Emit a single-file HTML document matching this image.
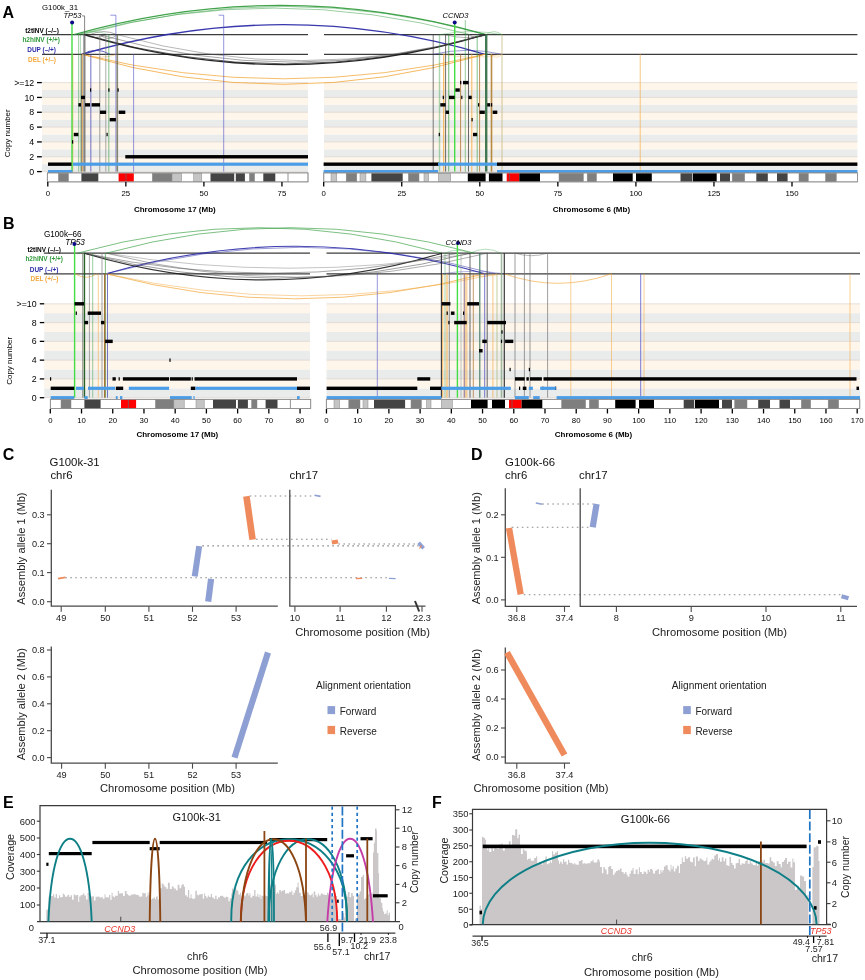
<!DOCTYPE html><html><head><meta charset="utf-8"><style>html,body{margin:0;padding:0;background:#fff;}svg{display:block;font-family:"Liberation Sans",sans-serif;will-change:transform;}</style></head><body>
<svg width="865" height="980" viewBox="0 0 865 980">
<rect x="42" y="164.18" width="266" height="7.42" fill="#eaebeb" />
<rect x="42" y="156.77" width="266" height="7.42" fill="#fef5eb" />
<rect x="42" y="149.35" width="266" height="7.42" fill="#eaebeb" />
<rect x="42" y="141.93" width="266" height="7.42" fill="#fef5eb" />
<rect x="42" y="134.52" width="266" height="7.42" fill="#eaebeb" />
<rect x="42" y="127.1" width="266" height="7.42" fill="#fef5eb" />
<rect x="42" y="119.68" width="266" height="7.42" fill="#eaebeb" />
<rect x="42" y="112.27" width="266" height="7.42" fill="#fef5eb" />
<rect x="42" y="104.85" width="266" height="7.42" fill="#eaebeb" />
<rect x="42" y="97.43" width="266" height="7.42" fill="#fef5eb" />
<rect x="42" y="90.02" width="266" height="7.42" fill="#eaebeb" />
<rect x="42" y="82.6" width="266" height="7.42" fill="#fef5eb" />
<line x1="42" y1="171.6" x2="308" y2="171.6" stroke="#d6cfc7" stroke-width="0.6" />
<line x1="42" y1="156.77" x2="308" y2="156.77" stroke="#d6cfc7" stroke-width="0.6" />
<line x1="42" y1="141.93" x2="308" y2="141.93" stroke="#d6cfc7" stroke-width="0.6" />
<line x1="42" y1="127.1" x2="308" y2="127.1" stroke="#d6cfc7" stroke-width="0.6" />
<line x1="42" y1="112.27" x2="308" y2="112.27" stroke="#d6cfc7" stroke-width="0.6" />
<line x1="42" y1="97.43" x2="308" y2="97.43" stroke="#d6cfc7" stroke-width="0.6" />
<line x1="42" y1="82.6" x2="308" y2="82.6" stroke="#d6cfc7" stroke-width="0.6" />
<rect x="324" y="164.18" width="533.4" height="7.42" fill="#eaebeb" />
<rect x="324" y="156.77" width="533.4" height="7.42" fill="#fef5eb" />
<rect x="324" y="149.35" width="533.4" height="7.42" fill="#eaebeb" />
<rect x="324" y="141.93" width="533.4" height="7.42" fill="#fef5eb" />
<rect x="324" y="134.52" width="533.4" height="7.42" fill="#eaebeb" />
<rect x="324" y="127.1" width="533.4" height="7.42" fill="#fef5eb" />
<rect x="324" y="119.68" width="533.4" height="7.42" fill="#eaebeb" />
<rect x="324" y="112.27" width="533.4" height="7.42" fill="#fef5eb" />
<rect x="324" y="104.85" width="533.4" height="7.42" fill="#eaebeb" />
<rect x="324" y="97.43" width="533.4" height="7.42" fill="#fef5eb" />
<rect x="324" y="90.02" width="533.4" height="7.42" fill="#eaebeb" />
<rect x="324" y="82.6" width="533.4" height="7.42" fill="#fef5eb" />
<line x1="324" y1="171.6" x2="857.4" y2="171.6" stroke="#d6cfc7" stroke-width="0.6" />
<line x1="324" y1="156.77" x2="857.4" y2="156.77" stroke="#d6cfc7" stroke-width="0.6" />
<line x1="324" y1="141.93" x2="857.4" y2="141.93" stroke="#d6cfc7" stroke-width="0.6" />
<line x1="324" y1="127.1" x2="857.4" y2="127.1" stroke="#d6cfc7" stroke-width="0.6" />
<line x1="324" y1="112.27" x2="857.4" y2="112.27" stroke="#d6cfc7" stroke-width="0.6" />
<line x1="324" y1="97.43" x2="857.4" y2="97.43" stroke="#d6cfc7" stroke-width="0.6" />
<line x1="324" y1="82.6" x2="857.4" y2="82.6" stroke="#d6cfc7" stroke-width="0.6" />
<line x1="37" y1="171.6" x2="41.8" y2="171.6" stroke="#000" stroke-width="1.3" />
<text x="34.2" y="174.7" font-size="8.8" text-anchor="end" font-weight="normal" font-style="normal" fill="#000" >0</text>
<line x1="37" y1="156.77" x2="41.8" y2="156.77" stroke="#000" stroke-width="1.3" />
<text x="34.2" y="159.87" font-size="8.8" text-anchor="end" font-weight="normal" font-style="normal" fill="#000" >2</text>
<line x1="37" y1="141.93" x2="41.8" y2="141.93" stroke="#000" stroke-width="1.3" />
<text x="34.2" y="145.03" font-size="8.8" text-anchor="end" font-weight="normal" font-style="normal" fill="#000" >4</text>
<line x1="37" y1="127.1" x2="41.8" y2="127.1" stroke="#000" stroke-width="1.3" />
<text x="34.2" y="130.2" font-size="8.8" text-anchor="end" font-weight="normal" font-style="normal" fill="#000" >6</text>
<line x1="37" y1="112.27" x2="41.8" y2="112.27" stroke="#000" stroke-width="1.3" />
<text x="34.2" y="115.37" font-size="8.8" text-anchor="end" font-weight="normal" font-style="normal" fill="#000" >8</text>
<line x1="37" y1="97.43" x2="41.8" y2="97.43" stroke="#000" stroke-width="1.3" />
<text x="34.2" y="100.53" font-size="8.8" text-anchor="end" font-weight="normal" font-style="normal" fill="#000" >10</text>
<line x1="37" y1="82.6" x2="41.8" y2="82.6" stroke="#000" stroke-width="1.3" />
<text x="34.2" y="85.7" font-size="8.8" text-anchor="end" font-weight="normal" font-style="normal" fill="#000" >&gt;=12</text>
<text x="2.6" y="17.6" font-size="16" text-anchor="start" font-weight="bold" font-style="normal" fill="#000" >A</text>
<text x="42" y="10.2" font-size="7.8" text-anchor="start" font-weight="normal" font-style="normal" fill="#000" >G100k_31</text>
<text x="63.5" y="18.3" font-size="7.5" text-anchor="start" font-weight="normal" font-style="italic" fill="#000" >TP53</text>
<text x="58.8" y="33" font-size="6.45" text-anchor="end" font-weight="bold" font-style="normal" fill="#000" >t2tINV (–/–)</text>
<text x="60" y="42" font-size="6.45" text-anchor="end" font-weight="bold" font-style="normal" fill="#2f9a3a" >h2hINV (+/+)</text>
<text x="56" y="52" font-size="6.45" text-anchor="end" font-weight="bold" font-style="normal" fill="#2d2da8" >DUP (–/+)</text>
<text x="56" y="61.7" font-size="6.45" text-anchor="end" font-weight="bold" font-style="normal" fill="#f3a73a" >DEL (+/–)</text>
<text x="9.6" y="133.3" font-size="8" text-anchor="middle" font-weight="normal" font-style="normal" fill="#000" transform="rotate(-90 9.6 133.3)">Copy number</text>
<line x1="42" y1="34.6" x2="308" y2="34.6" stroke="#3c3c3c" stroke-width="1.25" />
<line x1="42" y1="54.3" x2="308" y2="54.3" stroke="#3c3c3c" stroke-width="1.25" />
<line x1="324" y1="34.6" x2="857.4" y2="34.6" stroke="#3c3c3c" stroke-width="1.25" />
<line x1="324" y1="54.3" x2="857.4" y2="54.3" stroke="#3c3c3c" stroke-width="1.25" />
<path d="M74 34.6 Q280 -23.8 486 34.6" stroke="#2f9a3a" stroke-width="1.2" fill="none" stroke-opacity="0.9" />
<path d="M78 34.6 Q274 -18.4 470 34.6" stroke="#2f9a3a" stroke-width="0.8" fill="none" stroke-opacity="0.6" />
<path d="M82 34.6 Q284 -21.8 486 34.6" stroke="#2f9a3a" stroke-width="0.8" fill="none" stroke-opacity="0.6" />
<path d="M82 54.3 Q283.5 -4.9 485 54.3" stroke="#2d2da8" stroke-width="1.3" fill="none" stroke-opacity="0.95" />
<path d="M84 34.6 Q284.5 94.6 485 34.6" stroke="#111" stroke-width="1.4" fill="none" stroke-opacity="0.9" />
<path d="M84.5 34.6 Q285.25 93.2 486 34.6" stroke="#222" stroke-width="1" fill="none" stroke-opacity="0.7" />
<path d="M99 34.6 Q292.5 89.6 486 34.6" stroke="#444" stroke-width="0.8" fill="none" stroke-opacity="0.6" />
<path d="M117 34.6 Q301.5 86.6 486 34.6" stroke="#555" stroke-width="0.7" fill="none" stroke-opacity="0.6" />
<path d="M82 54.3 Q283.5 103.3 485 54.3" stroke="#f3a73a" stroke-width="1" fill="none" stroke-opacity="0.75" />
<path d="M82 54.3 Q283.5 114.3 485 54.3" stroke="#f3a73a" stroke-width="1" fill="none" stroke-opacity="0.8" />
<path d="M82 54.3 Q96 46.3 110 54.3" stroke="#2d2da8" stroke-width="0.9" fill="none" stroke-opacity="0.8" />
<path d="M90 34.6 Q103.5 28.6 117 34.6" stroke="#333" stroke-width="0.7" fill="none" stroke-opacity="0.6" />
<path d="M100 34.6 Q108.5 42.6 117 34.6" stroke="#333" stroke-width="0.7" fill="none" stroke-opacity="0.6" />
<path d="M84 34.6 Q95 40.6 106 34.6" stroke="#333" stroke-width="0.7" fill="none" stroke-opacity="0.6" />
<path d="M78 34.6 Q93 28.6 108 34.6" stroke="#2f9a3a" stroke-width="0.6" fill="none" stroke-opacity="0.5" />
<path d="M82 54.3 Q99.5 60.3 117 54.3" stroke="#f3a73a" stroke-width="0.7" fill="none" stroke-opacity="0.6" />
<path d="M440 34.6 Q471 28.6 502 34.6" stroke="#2f9a3a" stroke-width="0.7" fill="none" stroke-opacity="0.5" />
<path d="M486 34.6 Q494 28.6 502 34.6" stroke="#2f9a3a" stroke-width="0.7" fill="none" stroke-opacity="0.5" />
<path d="M433 54.3 Q467.5 46.3 502 54.3" stroke="#2d2da8" stroke-width="0.8" fill="none" stroke-opacity="0.6" />
<path d="M445 34.6 Q465.5 40.6 486 34.6" stroke="#333" stroke-width="0.7" fill="none" stroke-opacity="0.5" />
<path d="M468 34.6 Q477 39.6 486 34.6" stroke="#333" stroke-width="0.7" fill="none" stroke-opacity="0.5" />
<path d="M443 54.3 Q472.5 60.3 502 54.3" stroke="#f3a73a" stroke-width="0.7" fill="none" stroke-opacity="0.5" />
<path d="M491 54.3 Q496.5 60.3 502 54.3" stroke="#f3a73a" stroke-width="0.7" fill="none" stroke-opacity="0.5" />
<path d="M110.3 15.2 L115.9 15.2 L115.9 171.6" stroke="#5a5ac8" stroke-width="0.8" fill="none" stroke-opacity="0.8" />
<path d="M218.6 15.2 L223.7 15.2 L223.7 171.6" stroke="#5a5ac8" stroke-width="0.8" fill="none" stroke-opacity="0.8" />
<path d="M82 15.9 L84.6 15.9 L84.6 34.4" stroke="#555" stroke-width="0.7" fill="none" />
<line x1="72.8" y1="54.3" x2="72.8" y2="171.6" stroke="#f3a73a" stroke-width="0.8" stroke-opacity="0.9" />
<line x1="78.5" y1="34.6" x2="78.5" y2="171.6" stroke="#2f9a3a" stroke-width="0.8" stroke-opacity="0.55" />
<line x1="80.3" y1="34.6" x2="80.3" y2="171.6" stroke="#2f9a3a" stroke-width="0.8" stroke-opacity="0.55" />
<line x1="81.8" y1="54.3" x2="81.8" y2="171.6" stroke="#333" stroke-width="1" stroke-opacity="0.8" />
<line x1="82.3" y1="54.3" x2="82.3" y2="171.6" stroke="#f3a73a" stroke-width="0.8" stroke-opacity="0.9" />
<line x1="84.4" y1="34.6" x2="84.4" y2="171.6" stroke="#666" stroke-width="2.2" stroke-opacity="0.8" />
<line x1="90.8" y1="54.3" x2="90.8" y2="171.6" stroke="#5555bb" stroke-width="1.2" stroke-opacity="0.7" />
<line x1="99.8" y1="34.6" x2="99.8" y2="171.6" stroke="#777" stroke-width="1" stroke-opacity="0.7" />
<line x1="105.8" y1="34.6" x2="105.8" y2="171.6" stroke="#777" stroke-width="1" stroke-opacity="0.6" />
<line x1="108.8" y1="34.6" x2="108.8" y2="171.6" stroke="#2f9a3a" stroke-width="1" stroke-opacity="0.6" />
<line x1="117.3" y1="34.6" x2="117.3" y2="171.6" stroke="#5a5a3a" stroke-width="1.6" stroke-opacity="0.7" />
<line x1="133.6" y1="54.3" x2="133.6" y2="171.6" stroke="#5a5ac8" stroke-width="0.8" stroke-opacity="0.8" />
<line x1="72" y1="22.6" x2="72" y2="171.6" stroke="#44dd44" stroke-width="1.4" />
<circle cx="72.1" cy="22.6" r="2" fill="#0a0a88"/>
<rect x="48" y="162.48" width="23.5" height="3.4" fill="#000" />
<rect x="73.8" y="132.82" width="4.6" height="3.4" fill="#000" />
<rect x="72" y="140.23" width="1.2" height="3.4" fill="#000" />
<rect x="78.4" y="103.15" width="2.6" height="3.4" fill="#000" />
<rect x="81" y="95.73" width="4" height="3.4" fill="#000" />
<rect x="85" y="103.15" width="5" height="3.4" fill="#000" />
<rect x="91.6" y="103.15" width="8.4" height="3.4" fill="#000" />
<rect x="90" y="88.32" width="1.2" height="3.4" fill="#000" />
<rect x="100" y="110.57" width="6.1" height="3.4" fill="#000" />
<rect x="109.7" y="117.98" width="6.2" height="3.4" fill="#000" />
<rect x="106.5" y="132.82" width="1.2" height="3.4" fill="#000" />
<rect x="108.3" y="88.32" width="1.2" height="3.4" fill="#000" />
<rect x="117.5" y="88.32" width="1.2" height="3.4" fill="#000" />
<rect x="118.7" y="110.57" width="6.6" height="3.4" fill="#000" />
<rect x="125.3" y="155.07" width="182.7" height="3.4" fill="#000" />
<rect x="48" y="170" width="24.5" height="3.2" fill="#4a9de6" />
<rect x="73" y="162.58" width="235" height="3.2" fill="#4a9de6" />
<line x1="433.2" y1="34.6" x2="433.2" y2="171.6" stroke="#333" stroke-width="0.8" stroke-opacity="0.8" />
<line x1="439.5" y1="34.6" x2="439.5" y2="171.6" stroke="#2f9a3a" stroke-width="1.4" stroke-opacity="0.4" />
<line x1="443.7" y1="54.3" x2="443.7" y2="171.6" stroke="#f3a73a" stroke-width="1.2" stroke-opacity="0.8" />
<line x1="445.6" y1="34.6" x2="445.6" y2="171.6" stroke="#333" stroke-width="0.9" stroke-opacity="0.8" />
<line x1="448.7" y1="34.6" x2="448.7" y2="171.6" stroke="#2f9a3a" stroke-width="1.2" stroke-opacity="0.6" />
<line x1="460.6" y1="54.3" x2="460.6" y2="171.6" stroke="#b07030" stroke-width="1" stroke-opacity="0.8" />
<line x1="465.3" y1="20" x2="465.3" y2="171.6" stroke="#2f9a3a" stroke-width="1" stroke-opacity="0.5" />
<line x1="468.5" y1="34.6" x2="468.5" y2="171.6" stroke="#333" stroke-width="0.9" stroke-opacity="0.8" />
<line x1="471.8" y1="54.3" x2="471.8" y2="171.6" stroke="#f3a73a" stroke-width="1" stroke-opacity="0.8" />
<line x1="477.2" y1="34.6" x2="477.2" y2="171.6" stroke="#2f9a3a" stroke-width="1" stroke-opacity="0.6" />
<line x1="479.6" y1="54.3" x2="479.6" y2="171.6" stroke="#b07030" stroke-width="1" stroke-opacity="0.8" />
<line x1="486.2" y1="34.6" x2="486.2" y2="171.6" stroke="#2f6a3f" stroke-width="2.4" stroke-opacity="0.9" />
<line x1="491.5" y1="54.3" x2="491.5" y2="171.6" stroke="#b08030" stroke-width="1.6" stroke-opacity="0.9" />
<line x1="502" y1="34.6" x2="502" y2="171.6" stroke="#c0b070" stroke-width="1" stroke-opacity="0.7" />
<line x1="640.3" y1="54.3" x2="640.3" y2="171.6" stroke="#f3a73a" stroke-width="1.4" stroke-opacity="0.45" />
<line x1="454.7" y1="22.6" x2="454.7" y2="171.6" stroke="#44dd44" stroke-width="1.4" />
<circle cx="454.7" cy="22.6" r="2" fill="#0a0a88"/>
<text x="455.5" y="17.5" font-size="7.5" text-anchor="middle" font-weight="normal" font-style="italic" fill="#000" >CCND3</text>
<rect x="323.6" y="162.48" width="115.3" height="3.4" fill="#000" />
<rect x="497" y="162.48" width="360.4" height="3.4" fill="#000" />
<rect x="463" y="80.9" width="5.5" height="3.4" fill="#000" />
<rect x="460.1" y="80.9" width="1.2" height="3.4" fill="#000" />
<rect x="455.4" y="88.32" width="4.4" height="3.4" fill="#000" />
<rect x="449" y="95.73" width="5.7" height="3.4" fill="#000" />
<rect x="461.2" y="95.73" width="1.2" height="3.4" fill="#000" />
<rect x="468.5" y="95.73" width="3.2" height="3.4" fill="#000" />
<rect x="442.7" y="95.73" width="1.2" height="3.4" fill="#000" />
<rect x="440.3" y="103.15" width="5.3" height="3.4" fill="#000" />
<rect x="478" y="103.15" width="1.2" height="3.4" fill="#000" />
<rect x="487.2" y="103.15" width="3" height="3.4" fill="#000" />
<rect x="491" y="103.15" width="1.2" height="3.4" fill="#000" />
<rect x="445.6" y="110.57" width="3.4" height="3.4" fill="#000" />
<rect x="479.6" y="110.57" width="5.2" height="3.4" fill="#000" />
<rect x="492.7" y="110.57" width="4.6" height="3.4" fill="#000" />
<rect x="471.5" y="117.98" width="1.2" height="3.4" fill="#000" />
<rect x="473" y="132.82" width="4.2" height="3.4" fill="#000" />
<rect x="438.7" y="132.82" width="1.2" height="3.4" fill="#000" />
<rect x="323.6" y="170" width="114.4" height="3.2" fill="#4a9de6" />
<rect x="438" y="162.58" width="59" height="3.2" fill="#4a9de6" />
<rect x="497" y="170" width="360.4" height="3.2" fill="#4a9de6" />
<rect x="47.3" y="172.9" width="260.7" height="9" fill="#fff" stroke="#8a8a8a" stroke-width="0.7"/>
<rect x="58.4" y="173.25" width="10.1" height="8.3" fill="#7f7f7f" stroke="#8a8a8a" stroke-width="0.5"/>
<rect x="81.4" y="173.25" width="16.9" height="8.3" fill="#444444" />
<rect x="118.6" y="173.25" width="15.2" height="8.3" fill="#ff0000" />
<line x1="126" y1="172.9" x2="126" y2="181.9" stroke="#666" stroke-width="0.7" />
<rect x="152.3" y="173.25" width="19.7" height="8.3" fill="#7f7f7f" stroke="#8a8a8a" stroke-width="0.5"/>
<rect x="172" y="173.25" width="9.7" height="8.3" fill="#c4c4c4" stroke="#8a8a8a" stroke-width="0.5"/>
<rect x="193.7" y="173.25" width="8.1" height="8.3" fill="#c4c4c4" stroke="#8a8a8a" stroke-width="0.5"/>
<rect x="210.5" y="173.25" width="23.7" height="8.3" fill="#444444" />
<rect x="235.8" y="173.25" width="9.1" height="8.3" fill="#444444" />
<rect x="249.4" y="173.25" width="5.2" height="8.3" fill="#7f7f7f" stroke="#8a8a8a" stroke-width="0.5"/>
<rect x="263.3" y="173.25" width="12" height="8.3" fill="#444444" />
<line x1="288" y1="172.9" x2="288" y2="181.9" stroke="#666" stroke-width="0.7" />
<rect x="47.3" y="172.9" width="260.7" height="9" fill="none" stroke="#8a8a8a" stroke-width="0.7"/>
<rect x="323.8" y="172.9" width="533.6" height="9" fill="#fff" stroke="#8a8a8a" stroke-width="0.7"/>
<rect x="331" y="173.25" width="5.8" height="8.3" fill="#c4c4c4" stroke="#8a8a8a" stroke-width="0.5"/>
<rect x="346.2" y="173.25" width="10.6" height="8.3" fill="#7f7f7f" stroke="#8a8a8a" stroke-width="0.5"/>
<rect x="360" y="173.25" width="5.9" height="8.3" fill="#c4c4c4" stroke="#8a8a8a" stroke-width="0.5"/>
<rect x="371.4" y="173.25" width="31.3" height="8.3" fill="#444444" />
<rect x="408.4" y="173.25" width="10.6" height="8.3" fill="#7f7f7f" stroke="#8a8a8a" stroke-width="0.5"/>
<rect x="424" y="173.25" width="4.7" height="8.3" fill="#c4c4c4" stroke="#8a8a8a" stroke-width="0.5"/>
<rect x="438.4" y="173.25" width="12.3" height="8.3" fill="#c4c4c4" stroke="#8a8a8a" stroke-width="0.5"/>
<rect x="467.8" y="173.25" width="17.8" height="8.3" fill="#000000" />
<rect x="488.9" y="173.25" width="13.6" height="8.3" fill="#000000" />
<rect x="506.7" y="173.25" width="12.6" height="8.3" fill="#ff0000" />
<line x1="509.6" y1="172.9" x2="509.6" y2="181.9" stroke="#666" stroke-width="0.7" />
<rect x="519.3" y="173.25" width="20.7" height="8.3" fill="#000000" />
<rect x="559" y="173.25" width="24.4" height="8.3" fill="#7f7f7f" stroke="#8a8a8a" stroke-width="0.5"/>
<rect x="587.2" y="173.25" width="9.3" height="8.3" fill="#7f7f7f" stroke="#8a8a8a" stroke-width="0.5"/>
<rect x="613" y="173.25" width="19.7" height="8.3" fill="#000000" />
<rect x="636" y="173.25" width="15.8" height="8.3" fill="#000000" />
<rect x="680.5" y="173.25" width="11.5" height="8.3" fill="#444444" />
<rect x="692.7" y="173.25" width="24" height="8.3" fill="#000000" />
<rect x="720" y="173.25" width="10" height="8.3" fill="#444444" />
<rect x="732.2" y="173.25" width="12.5" height="8.3" fill="#7f7f7f" stroke="#8a8a8a" stroke-width="0.5"/>
<rect x="756.3" y="173.25" width="11.5" height="8.3" fill="#444444" />
<rect x="777" y="173.25" width="10.6" height="8.3" fill="#444444" />
<rect x="799" y="173.25" width="9.3" height="8.3" fill="#7f7f7f" stroke="#8a8a8a" stroke-width="0.5"/>
<rect x="825.5" y="173.25" width="10.8" height="8.3" fill="#7f7f7f" stroke="#8a8a8a" stroke-width="0.5"/>
<rect x="323.8" y="172.9" width="533.6" height="9" fill="none" stroke="#8a8a8a" stroke-width="0.7"/>
<line x1="47.8" y1="182" x2="47.8" y2="186.5" stroke="#000" stroke-width="1.3" />
<text x="47.8" y="196.2" font-size="7.8" text-anchor="middle" font-weight="normal" font-style="normal" fill="#000" >0</text>
<line x1="125.85" y1="182" x2="125.85" y2="186.5" stroke="#000" stroke-width="1.3" />
<text x="125.85" y="196.2" font-size="7.8" text-anchor="middle" font-weight="normal" font-style="normal" fill="#000" >25</text>
<line x1="203.9" y1="182" x2="203.9" y2="186.5" stroke="#000" stroke-width="1.3" />
<text x="203.9" y="196.2" font-size="7.8" text-anchor="middle" font-weight="normal" font-style="normal" fill="#000" >50</text>
<line x1="281.95" y1="182" x2="281.95" y2="186.5" stroke="#000" stroke-width="1.3" />
<text x="281.95" y="196.2" font-size="7.8" text-anchor="middle" font-weight="normal" font-style="normal" fill="#000" >75</text>
<line x1="323.7" y1="182" x2="323.7" y2="186.5" stroke="#000" stroke-width="1.3" />
<text x="323.7" y="196.2" font-size="7.8" text-anchor="middle" font-weight="normal" font-style="normal" fill="#000" >0</text>
<line x1="401.75" y1="182" x2="401.75" y2="186.5" stroke="#000" stroke-width="1.3" />
<text x="401.75" y="196.2" font-size="7.8" text-anchor="middle" font-weight="normal" font-style="normal" fill="#000" >25</text>
<line x1="479.8" y1="182" x2="479.8" y2="186.5" stroke="#000" stroke-width="1.3" />
<text x="479.8" y="196.2" font-size="7.8" text-anchor="middle" font-weight="normal" font-style="normal" fill="#000" >50</text>
<line x1="557.85" y1="182" x2="557.85" y2="186.5" stroke="#000" stroke-width="1.3" />
<text x="557.85" y="196.2" font-size="7.8" text-anchor="middle" font-weight="normal" font-style="normal" fill="#000" >75</text>
<line x1="635.9" y1="182" x2="635.9" y2="186.5" stroke="#000" stroke-width="1.3" />
<text x="635.9" y="196.2" font-size="7.8" text-anchor="middle" font-weight="normal" font-style="normal" fill="#000" >100</text>
<line x1="713.95" y1="182" x2="713.95" y2="186.5" stroke="#000" stroke-width="1.3" />
<text x="713.95" y="196.2" font-size="7.8" text-anchor="middle" font-weight="normal" font-style="normal" fill="#000" >125</text>
<line x1="792" y1="182" x2="792" y2="186.5" stroke="#000" stroke-width="1.3" />
<text x="792" y="196.2" font-size="7.8" text-anchor="middle" font-weight="normal" font-style="normal" fill="#000" >150</text>
<text x="174.8" y="211.5" font-size="8" text-anchor="middle" font-weight="bold" font-style="normal" fill="#000" >Chromosome 17 (Mb)</text>
<text x="591.4" y="211.5" font-size="8" text-anchor="middle" font-weight="bold" font-style="normal" fill="#000" >Chromosome 6 (Mb)</text>
<rect x="44.2" y="388.31" width="265.8" height="9.39" fill="#eaebeb" />
<rect x="44.2" y="378.92" width="265.8" height="9.39" fill="#fef5eb" />
<rect x="44.2" y="369.53" width="265.8" height="9.39" fill="#eaebeb" />
<rect x="44.2" y="360.14" width="265.8" height="9.39" fill="#fef5eb" />
<rect x="44.2" y="350.75" width="265.8" height="9.39" fill="#eaebeb" />
<rect x="44.2" y="341.36" width="265.8" height="9.39" fill="#fef5eb" />
<rect x="44.2" y="331.97" width="265.8" height="9.39" fill="#eaebeb" />
<rect x="44.2" y="322.58" width="265.8" height="9.39" fill="#fef5eb" />
<rect x="44.2" y="313.19" width="265.8" height="9.39" fill="#eaebeb" />
<rect x="44.2" y="303.8" width="265.8" height="9.39" fill="#fef5eb" />
<line x1="44.2" y1="397.7" x2="310" y2="397.7" stroke="#d6cfc7" stroke-width="0.6" />
<line x1="44.2" y1="378.92" x2="310" y2="378.92" stroke="#d6cfc7" stroke-width="0.6" />
<line x1="44.2" y1="360.14" x2="310" y2="360.14" stroke="#d6cfc7" stroke-width="0.6" />
<line x1="44.2" y1="341.36" x2="310" y2="341.36" stroke="#d6cfc7" stroke-width="0.6" />
<line x1="44.2" y1="322.58" x2="310" y2="322.58" stroke="#d6cfc7" stroke-width="0.6" />
<line x1="44.2" y1="303.8" x2="310" y2="303.8" stroke="#d6cfc7" stroke-width="0.6" />
<rect x="326.5" y="388.31" width="533.5" height="9.39" fill="#eaebeb" />
<rect x="326.5" y="378.92" width="533.5" height="9.39" fill="#fef5eb" />
<rect x="326.5" y="369.53" width="533.5" height="9.39" fill="#eaebeb" />
<rect x="326.5" y="360.14" width="533.5" height="9.39" fill="#fef5eb" />
<rect x="326.5" y="350.75" width="533.5" height="9.39" fill="#eaebeb" />
<rect x="326.5" y="341.36" width="533.5" height="9.39" fill="#fef5eb" />
<rect x="326.5" y="331.97" width="533.5" height="9.39" fill="#eaebeb" />
<rect x="326.5" y="322.58" width="533.5" height="9.39" fill="#fef5eb" />
<rect x="326.5" y="313.19" width="533.5" height="9.39" fill="#eaebeb" />
<rect x="326.5" y="303.8" width="533.5" height="9.39" fill="#fef5eb" />
<line x1="326.5" y1="397.7" x2="860" y2="397.7" stroke="#d6cfc7" stroke-width="0.6" />
<line x1="326.5" y1="378.92" x2="860" y2="378.92" stroke="#d6cfc7" stroke-width="0.6" />
<line x1="326.5" y1="360.14" x2="860" y2="360.14" stroke="#d6cfc7" stroke-width="0.6" />
<line x1="326.5" y1="341.36" x2="860" y2="341.36" stroke="#d6cfc7" stroke-width="0.6" />
<line x1="326.5" y1="322.58" x2="860" y2="322.58" stroke="#d6cfc7" stroke-width="0.6" />
<line x1="326.5" y1="303.8" x2="860" y2="303.8" stroke="#d6cfc7" stroke-width="0.6" />
<line x1="39.8" y1="397.7" x2="44.2" y2="397.7" stroke="#000" stroke-width="1.3" />
<text x="36.6" y="400.8" font-size="8.8" text-anchor="end" font-weight="normal" font-style="normal" fill="#000" >0</text>
<line x1="39.8" y1="378.92" x2="44.2" y2="378.92" stroke="#000" stroke-width="1.3" />
<text x="36.6" y="382.02" font-size="8.8" text-anchor="end" font-weight="normal" font-style="normal" fill="#000" >2</text>
<line x1="39.8" y1="360.14" x2="44.2" y2="360.14" stroke="#000" stroke-width="1.3" />
<text x="36.6" y="363.24" font-size="8.8" text-anchor="end" font-weight="normal" font-style="normal" fill="#000" >4</text>
<line x1="39.8" y1="341.36" x2="44.2" y2="341.36" stroke="#000" stroke-width="1.3" />
<text x="36.6" y="344.46" font-size="8.8" text-anchor="end" font-weight="normal" font-style="normal" fill="#000" >6</text>
<line x1="39.8" y1="322.58" x2="44.2" y2="322.58" stroke="#000" stroke-width="1.3" />
<text x="36.6" y="325.68" font-size="8.8" text-anchor="end" font-weight="normal" font-style="normal" fill="#000" >8</text>
<line x1="39.8" y1="303.8" x2="44.2" y2="303.8" stroke="#000" stroke-width="1.3" />
<text x="36.6" y="306.9" font-size="8.8" text-anchor="end" font-weight="normal" font-style="normal" fill="#000" >&gt;=10</text>
<text x="3" y="228.8" font-size="16" text-anchor="start" font-weight="bold" font-style="normal" fill="#000" >B</text>
<text x="43.9" y="236.5" font-size="8.2" text-anchor="start" font-weight="normal" font-style="normal" fill="#000" >G100k–66</text>
<text x="65.2" y="245" font-size="8.2" text-anchor="start" font-weight="normal" font-style="italic" fill="#000" >TP53</text>
<text x="61" y="251.8" font-size="6.45" text-anchor="end" font-weight="bold" font-style="normal" fill="#000" >t2tINV (–/–)</text>
<text x="63" y="260.8" font-size="6.45" text-anchor="end" font-weight="bold" font-style="normal" fill="#2f9a3a" >h2hINV (+/+)</text>
<text x="58.5" y="272.1" font-size="6.45" text-anchor="end" font-weight="bold" font-style="normal" fill="#2d2da8" >DUP (–/+)</text>
<text x="58.5" y="281.1" font-size="6.45" text-anchor="end" font-weight="bold" font-style="normal" fill="#f3a73a" >DEL (+/–)</text>
<text x="11.6" y="360.8" font-size="8" text-anchor="middle" font-weight="normal" font-style="normal" fill="#000" transform="rotate(-90 11.6 360.8)">Copy number</text>
<line x1="43.9" y1="253.2" x2="310" y2="253.2" stroke="#3c3c3c" stroke-width="1.25" />
<line x1="43.9" y1="273.8" x2="310" y2="273.8" stroke="#3c3c3c" stroke-width="1.25" />
<line x1="326.5" y1="253.2" x2="860" y2="253.2" stroke="#3c3c3c" stroke-width="1.25" />
<line x1="326.5" y1="273.8" x2="860" y2="273.8" stroke="#3c3c3c" stroke-width="1.25" />
<path d="M77.3 253.2 Q259.65 202.2 442 253.2" stroke="#2f9a3a" stroke-width="0.9" fill="none" stroke-opacity="0.7" />
<path d="M106.2 253.2 Q290.45 202.2 474.7 253.2" stroke="#2f9a3a" stroke-width="0.9" fill="none" stroke-opacity="0.7" />
<path d="M106.2 273.8 Q295.45 218.8 484.7 273.8" stroke="#2d2da8" stroke-width="1.1" fill="none" stroke-opacity="0.9" />
<path d="M106.2 273.8 Q300.6 220.8 495 273.8" stroke="#2d2da8" stroke-width="0.8" fill="none" stroke-opacity="0.6" />
<path d="M84.3 253.2 Q263.15 306.6 442 253.2" stroke="#111" stroke-width="1.15" fill="none" stroke-opacity="0.85" />
<path d="M84.3 253.2 Q271.15 293.2 458 253.2" stroke="#444" stroke-width="0.8" fill="none" stroke-opacity="0.6" />
<path d="M106.2 253.2 Q290.1 283.2 474 253.2" stroke="#666" stroke-width="0.7" fill="none" stroke-opacity="0.55" />
<path d="M84.3 253.2 Q277.15 303.2 470 253.2" stroke="#333" stroke-width="0.8" fill="none" stroke-opacity="0.6" />
<path d="M106.2 253.2 Q296.7 301.2 487.2 253.2" stroke="#555" stroke-width="0.8" fill="none" stroke-opacity="0.6" />
<path d="M106.2 273.8 Q295.45 323.8 484.7 273.8" stroke="#f3a73a" stroke-width="0.9" fill="none" stroke-opacity="0.8" />
<path d="M106.2 273.8 Q301.6 317.8 497 273.8" stroke="#f3a73a" stroke-width="0.8" fill="none" stroke-opacity="0.6" />
<path d="M75 273.8 Q86 280.8 97 273.8" stroke="#f3a73a" stroke-width="0.8" fill="none" stroke-opacity="0.7" />
<path d="M445 253.2 Q457.5 247.2 470 253.2" stroke="#2f9a3a" stroke-width="0.7" fill="none" stroke-opacity="0.5" />
<path d="M470 253.2 Q485.5 245.2 501 253.2" stroke="#2f9a3a" stroke-width="0.7" fill="none" stroke-opacity="0.5" />
<path d="M515 253.2 Q531.3 258.2 547.6 253.2" stroke="#555" stroke-width="0.7" fill="none" stroke-opacity="0.6" />
<path d="M504.3 273.8 Q557.9 292.8 611.5 273.8" stroke="#f3a73a" stroke-width="0.9" fill="none" stroke-opacity="0.7" />
<path d="M441.4 273.8 Q472.7 268.8 504 273.8" stroke="#2d2da8" stroke-width="0.7" fill="none" stroke-opacity="0.5" />
<path d="M463 273.8 Q482.5 278.8 502 273.8" stroke="#f3a73a" stroke-width="0.7" fill="none" stroke-opacity="0.5" />
<line x1="82.5" y1="253.2" x2="82.5" y2="397.7" stroke="#666" stroke-width="0.8" stroke-opacity="0.7" />
<line x1="84.4" y1="253.2" x2="84.4" y2="397.7" stroke="#1e5a1e" stroke-width="1.5" stroke-opacity="0.95" />
<line x1="89.4" y1="253.2" x2="89.4" y2="397.7" stroke="#666" stroke-width="0.8" stroke-opacity="0.7" />
<line x1="92.7" y1="253.2" x2="92.7" y2="397.7" stroke="#2f9a3a" stroke-width="0.8" stroke-opacity="0.6" />
<line x1="98.3" y1="273.8" x2="98.3" y2="397.7" stroke="#f3a73a" stroke-width="0.9" stroke-opacity="0.6" />
<line x1="102" y1="253.2" x2="102" y2="397.7" stroke="#888" stroke-width="1.3" stroke-opacity="0.6" />
<line x1="105.4" y1="253.2" x2="105.4" y2="397.7" stroke="#2f9a3a" stroke-width="0.9" stroke-opacity="0.7" />
<line x1="104.7" y1="273.8" x2="104.7" y2="397.7" stroke="#a06020" stroke-width="1.3" stroke-opacity="0.9" />
<line x1="107.5" y1="273.8" x2="107.5" y2="397.7" stroke="#5555bb" stroke-width="1" stroke-opacity="0.8" />
<line x1="74.6" y1="244" x2="74.6" y2="397.7" stroke="#44dd44" stroke-width="1.4" />
<circle cx="74.4" cy="244" r="2" fill="#0a0a88"/>
<rect x="74.6" y="302.1" width="9.4" height="3.4" fill="#000" />
<rect x="75.7" y="311.49" width="1.2" height="3.4" fill="#000" />
<rect x="87.7" y="311.49" width="13.3" height="3.4" fill="#000" />
<rect x="84.4" y="320.88" width="3.7" height="3.4" fill="#000" />
<rect x="101" y="320.88" width="3.4" height="3.4" fill="#000" />
<rect x="105.1" y="339.66" width="7.6" height="3.4" fill="#000" />
<rect x="169.4" y="358.44" width="1.2" height="3.4" fill="#000" />
<rect x="50" y="377.22" width="1.2" height="3.4" fill="#000" />
<rect x="112.5" y="377.22" width="3.3" height="3.4" fill="#000" />
<rect x="118.6" y="377.22" width="1.2" height="3.4" fill="#000" />
<rect x="122.9" y="377.22" width="46.2" height="3.4" fill="#000" />
<rect x="170" y="377.22" width="20.8" height="3.4" fill="#000" />
<rect x="191.6" y="377.22" width="1.2" height="3.4" fill="#000" />
<rect x="194.5" y="377.22" width="102.5" height="3.4" fill="#000" />
<rect x="50.7" y="386.61" width="23.5" height="3.4" fill="#000" />
<rect x="115.8" y="386.61" width="7.4" height="3.4" fill="#000" />
<rect x="190.8" y="386.61" width="4.6" height="3.4" fill="#000" />
<rect x="297" y="386.61" width="13" height="3.4" fill="#000" />
<rect x="76" y="386.71" width="8" height="3.2" fill="#4a9de6" />
<rect x="88" y="386.71" width="27" height="3.2" fill="#4a9de6" />
<rect x="128.8" y="386.71" width="40.3" height="3.2" fill="#4a9de6" />
<rect x="195.4" y="386.71" width="101.6" height="3.2" fill="#4a9de6" />
<rect x="50.7" y="396.1" width="23.5" height="3.2" fill="#4a9de6" />
<rect x="84.4" y="396.1" width="3.3" height="3.2" fill="#4a9de6" />
<rect x="115.8" y="396.1" width="1.9" height="3.2" fill="#4a9de6" />
<rect x="120" y="396.1" width="2.3" height="3.2" fill="#4a9de6" />
<rect x="170" y="396.1" width="21.7" height="3.2" fill="#4a9de6" />
<rect x="193.4" y="396.1" width="1.2" height="3.2" fill="#4a9de6" />
<rect x="297" y="396.1" width="2.7" height="3.2" fill="#4a9de6" />
<line x1="377.3" y1="273.8" x2="377.3" y2="397.7" stroke="#5a5ac8" stroke-width="0.8" stroke-opacity="0.8" />
<line x1="441.4" y1="253.2" x2="441.4" y2="397.7" stroke="#222" stroke-width="1.1" stroke-opacity="0.9" />
<line x1="442.7" y1="273.8" x2="442.7" y2="397.7" stroke="#f3a73a" stroke-width="1" stroke-opacity="0.8" />
<line x1="445" y1="253.2" x2="445" y2="397.7" stroke="#2f9a3a" stroke-width="0.8" stroke-opacity="0.5" />
<line x1="447" y1="273.8" x2="447" y2="397.7" stroke="#f3a73a" stroke-width="2.2" stroke-opacity="0.45" />
<line x1="449.3" y1="253.2" x2="449.3" y2="397.7" stroke="#555" stroke-width="0.8" stroke-opacity="0.8" />
<line x1="461" y1="253.2" x2="461" y2="397.7" stroke="#8a9a8a" stroke-width="0.9" stroke-opacity="0.6" />
<line x1="465.5" y1="273.8" x2="465.5" y2="397.7" stroke="#f3a73a" stroke-width="4" stroke-opacity="0.45" />
<line x1="464.3" y1="273.8" x2="464.3" y2="397.7" stroke="#5555bb" stroke-width="0.9" stroke-opacity="0.7" />
<line x1="470" y1="253.2" x2="470" y2="397.7" stroke="#444" stroke-width="1" stroke-opacity="0.8" />
<line x1="473.3" y1="273.8" x2="473.3" y2="397.7" stroke="#b07030" stroke-width="0.9" stroke-opacity="0.8" />
<line x1="479.8" y1="253.2" x2="479.8" y2="397.7" stroke="#2f6a4f" stroke-width="1.1" stroke-opacity="0.9" />
<line x1="484.7" y1="273.8" x2="484.7" y2="397.7" stroke="#5555bb" stroke-width="1" stroke-opacity="0.8" />
<line x1="487.2" y1="253.2" x2="487.2" y2="397.7" stroke="#444" stroke-width="1" stroke-opacity="0.8" />
<line x1="492.9" y1="273.8" x2="492.9" y2="397.7" stroke="#f3a73a" stroke-width="0.9" stroke-opacity="0.7" />
<line x1="497" y1="273.8" x2="497" y2="397.7" stroke="#a0b060" stroke-width="0.9" stroke-opacity="0.7" />
<line x1="501.5" y1="253.2" x2="501.5" y2="397.7" stroke="#7aa07a" stroke-width="1.6" stroke-opacity="0.7" />
<line x1="504.3" y1="253.2" x2="504.3" y2="397.7" stroke="#222" stroke-width="1.2" stroke-opacity="0.9" />
<line x1="515" y1="253.2" x2="515" y2="397.7" stroke="#777" stroke-width="0.9" stroke-opacity="0.8" />
<line x1="524.4" y1="253.2" x2="524.4" y2="397.7" stroke="#777" stroke-width="0.9" stroke-opacity="0.8" />
<line x1="530" y1="253.2" x2="530" y2="397.7" stroke="#777" stroke-width="0.9" stroke-opacity="0.8" />
<line x1="547.6" y1="253.2" x2="547.6" y2="397.7" stroke="#777" stroke-width="0.9" stroke-opacity="0.8" />
<line x1="570.8" y1="273.8" x2="570.8" y2="397.7" stroke="#f3a73a" stroke-width="0.9" stroke-opacity="0.6" />
<line x1="611.5" y1="273.8" x2="611.5" y2="397.7" stroke="#f3a73a" stroke-width="0.9" stroke-opacity="0.6" />
<line x1="640.7" y1="273.8" x2="640.7" y2="397.7" stroke="#5a5ac8" stroke-width="1" stroke-opacity="0.8" />
<line x1="644" y1="273.8" x2="644" y2="397.7" stroke="#f3a73a" stroke-width="0.9" stroke-opacity="0.6" />
<line x1="850" y1="273.8" x2="850" y2="397.7" stroke="#f3a73a" stroke-width="0.9" stroke-opacity="0.6" />
<line x1="457.4" y1="243" x2="457.4" y2="397.7" stroke="#44dd44" stroke-width="1.4" />
<circle cx="458" cy="243" r="2" fill="#0a0a88"/>
<text x="458.5" y="245" font-size="7.5" text-anchor="middle" font-weight="normal" font-style="italic" fill="#000" >CCND3</text>
<rect x="441.8" y="302.1" width="8.6" height="3.4" fill="#000" />
<rect x="467.2" y="302.1" width="11.8" height="3.4" fill="#000" />
<rect x="446.6" y="311.49" width="1.2" height="3.4" fill="#000" />
<rect x="450.9" y="311.49" width="3.6" height="3.4" fill="#000" />
<rect x="463" y="311.49" width="1.2" height="3.4" fill="#000" />
<rect x="448.3" y="320.88" width="1.2" height="3.4" fill="#000" />
<rect x="454.2" y="320.88" width="12.5" height="3.4" fill="#000" />
<rect x="487.2" y="320.88" width="18.8" height="3.4" fill="#000" />
<rect x="501.4" y="330.27" width="1.2" height="3.4" fill="#000" />
<rect x="482.3" y="339.66" width="4.5" height="3.4" fill="#000" />
<rect x="500.9" y="339.66" width="1.2" height="3.4" fill="#000" />
<rect x="505.1" y="339.66" width="8.2" height="3.4" fill="#000" />
<rect x="479" y="349.05" width="3.6" height="3.4" fill="#000" />
<rect x="509.5" y="367.83" width="1.2" height="3.4" fill="#000" />
<rect x="528.8" y="367.83" width="1.2" height="3.4" fill="#000" />
<rect x="417.3" y="377.22" width="12.9" height="3.4" fill="#000" />
<rect x="515" y="377.22" width="9.7" height="3.4" fill="#000" />
<rect x="526.4" y="377.22" width="2.4" height="3.4" fill="#000" />
<rect x="530" y="377.22" width="11.9" height="3.4" fill="#000" />
<rect x="543.5" y="377.22" width="313" height="3.4" fill="#000" />
<rect x="326.6" y="386.61" width="90.7" height="3.4" fill="#000" />
<rect x="430" y="386.61" width="11.4" height="3.4" fill="#000" />
<rect x="519" y="386.61" width="1.2" height="3.4" fill="#000" />
<rect x="522.8" y="386.61" width="3.6" height="3.4" fill="#000" />
<rect x="542.2" y="386.61" width="1.2" height="3.4" fill="#000" />
<rect x="555" y="386.61" width="1.2" height="3.4" fill="#000" />
<rect x="856.5" y="386.61" width="2.5" height="3.4" fill="#000" />
<rect x="441.4" y="386.71" width="69.4" height="3.2" fill="#4a9de6" />
<rect x="528.8" y="386.71" width="4.1" height="3.2" fill="#4a9de6" />
<rect x="540.2" y="386.71" width="15.6" height="3.2" fill="#4a9de6" />
<rect x="326.6" y="396.1" width="114.8" height="3.2" fill="#4a9de6" />
<rect x="515" y="396.1" width="13.8" height="3.2" fill="#4a9de6" />
<rect x="533.2" y="396.1" width="6.5" height="3.2" fill="#4a9de6" />
<rect x="556.6" y="396.1" width="303.4" height="3.2" fill="#4a9de6" />
<rect x="50.3" y="399.3" width="260.45" height="9.3" fill="#fff" stroke="#8a8a8a" stroke-width="0.7"/>
<rect x="61" y="399.65" width="10" height="8.6" fill="#7f7f7f" stroke="#8a8a8a" stroke-width="0.5"/>
<rect x="84.4" y="399.65" width="16.2" height="8.6" fill="#444444" />
<rect x="121" y="399.65" width="15.1" height="8.6" fill="#ff0000" />
<line x1="128.4" y1="399.3" x2="128.4" y2="408.6" stroke="#666" stroke-width="0.7" />
<rect x="155.4" y="399.65" width="18.5" height="8.6" fill="#7f7f7f" stroke="#8a8a8a" stroke-width="0.5"/>
<rect x="173.9" y="399.65" width="10.3" height="8.6" fill="#c4c4c4" stroke="#8a8a8a" stroke-width="0.5"/>
<rect x="196" y="399.65" width="8.2" height="8.6" fill="#c4c4c4" stroke="#8a8a8a" stroke-width="0.5"/>
<rect x="213" y="399.65" width="23" height="8.6" fill="#444444" />
<rect x="237.9" y="399.65" width="10" height="8.6" fill="#444444" />
<rect x="251.6" y="399.65" width="5.4" height="8.6" fill="#7f7f7f" stroke="#8a8a8a" stroke-width="0.5"/>
<rect x="265.6" y="399.65" width="11.9" height="8.6" fill="#444444" />
<line x1="290.4" y1="399.3" x2="290.4" y2="408.6" stroke="#666" stroke-width="0.7" />
<rect x="50.3" y="399.3" width="260.45" height="9.3" fill="none" stroke="#8a8a8a" stroke-width="0.7"/>
<rect x="326.3" y="399.3" width="533.5" height="9.3" fill="#fff" stroke="#8a8a8a" stroke-width="0.7"/>
<rect x="334" y="399.65" width="5.6" height="8.6" fill="#c4c4c4" stroke="#8a8a8a" stroke-width="0.5"/>
<rect x="348.8" y="399.65" width="11.2" height="8.6" fill="#7f7f7f" stroke="#8a8a8a" stroke-width="0.5"/>
<rect x="363" y="399.65" width="5" height="8.6" fill="#c4c4c4" stroke="#8a8a8a" stroke-width="0.5"/>
<rect x="374" y="399.65" width="31.1" height="8.6" fill="#444444" />
<rect x="411" y="399.65" width="10.4" height="8.6" fill="#7f7f7f" stroke="#8a8a8a" stroke-width="0.5"/>
<rect x="426.5" y="399.65" width="4.5" height="8.6" fill="#c4c4c4" stroke="#8a8a8a" stroke-width="0.5"/>
<rect x="441.3" y="399.65" width="11.1" height="8.6" fill="#c4c4c4" stroke="#8a8a8a" stroke-width="0.5"/>
<rect x="471" y="399.65" width="16.6" height="8.6" fill="#000000" />
<rect x="492" y="399.65" width="13" height="8.6" fill="#000000" />
<rect x="509" y="399.65" width="12.6" height="8.6" fill="#ff0000" />
<line x1="512" y1="399.3" x2="512" y2="408.6" stroke="#666" stroke-width="0.7" />
<rect x="521.6" y="399.65" width="20.7" height="8.6" fill="#000000" />
<rect x="561.6" y="399.65" width="24" height="8.6" fill="#7f7f7f" stroke="#8a8a8a" stroke-width="0.5"/>
<rect x="589.3" y="399.65" width="9.3" height="8.6" fill="#7f7f7f" stroke="#8a8a8a" stroke-width="0.5"/>
<rect x="615.2" y="399.65" width="20.4" height="8.6" fill="#000000" />
<rect x="639" y="399.65" width="15" height="8.6" fill="#000000" />
<rect x="683.7" y="399.65" width="10.5" height="8.6" fill="#444444" />
<rect x="695" y="399.65" width="24" height="8.6" fill="#000000" />
<rect x="722" y="399.65" width="10" height="8.6" fill="#444444" />
<rect x="734.7" y="399.65" width="12.3" height="8.6" fill="#7f7f7f" stroke="#8a8a8a" stroke-width="0.5"/>
<rect x="758.2" y="399.65" width="11.8" height="8.6" fill="#444444" />
<rect x="779.5" y="399.65" width="10.5" height="8.6" fill="#444444" />
<rect x="801.3" y="399.65" width="9.4" height="8.6" fill="#7f7f7f" stroke="#8a8a8a" stroke-width="0.5"/>
<rect x="828.2" y="399.65" width="10.5" height="8.6" fill="#7f7f7f" stroke="#8a8a8a" stroke-width="0.5"/>
<rect x="326.3" y="399.3" width="533.5" height="9.3" fill="none" stroke="#8a8a8a" stroke-width="0.7"/>
<line x1="50.3" y1="409" x2="50.3" y2="413.5" stroke="#000" stroke-width="1.3" />
<text x="50.3" y="423" font-size="7.8" text-anchor="middle" font-weight="normal" font-style="normal" fill="#000" >0</text>
<line x1="81.52" y1="409" x2="81.52" y2="413.5" stroke="#000" stroke-width="1.3" />
<text x="81.52" y="423" font-size="7.8" text-anchor="middle" font-weight="normal" font-style="normal" fill="#000" >10</text>
<line x1="112.74" y1="409" x2="112.74" y2="413.5" stroke="#000" stroke-width="1.3" />
<text x="112.74" y="423" font-size="7.8" text-anchor="middle" font-weight="normal" font-style="normal" fill="#000" >20</text>
<line x1="143.96" y1="409" x2="143.96" y2="413.5" stroke="#000" stroke-width="1.3" />
<text x="143.96" y="423" font-size="7.8" text-anchor="middle" font-weight="normal" font-style="normal" fill="#000" >30</text>
<line x1="175.18" y1="409" x2="175.18" y2="413.5" stroke="#000" stroke-width="1.3" />
<text x="175.18" y="423" font-size="7.8" text-anchor="middle" font-weight="normal" font-style="normal" fill="#000" >40</text>
<line x1="206.4" y1="409" x2="206.4" y2="413.5" stroke="#000" stroke-width="1.3" />
<text x="206.4" y="423" font-size="7.8" text-anchor="middle" font-weight="normal" font-style="normal" fill="#000" >50</text>
<line x1="237.62" y1="409" x2="237.62" y2="413.5" stroke="#000" stroke-width="1.3" />
<text x="237.62" y="423" font-size="7.8" text-anchor="middle" font-weight="normal" font-style="normal" fill="#000" >60</text>
<line x1="268.84" y1="409" x2="268.84" y2="413.5" stroke="#000" stroke-width="1.3" />
<text x="268.84" y="423" font-size="7.8" text-anchor="middle" font-weight="normal" font-style="normal" fill="#000" >70</text>
<line x1="300.06" y1="409" x2="300.06" y2="413.5" stroke="#000" stroke-width="1.3" />
<text x="300.06" y="423" font-size="7.8" text-anchor="middle" font-weight="normal" font-style="normal" fill="#000" >80</text>
<line x1="326.45" y1="409" x2="326.45" y2="413.5" stroke="#000" stroke-width="1.3" />
<text x="326.45" y="423" font-size="7.8" text-anchor="middle" font-weight="normal" font-style="normal" fill="#000" >0</text>
<line x1="357.67" y1="409" x2="357.67" y2="413.5" stroke="#000" stroke-width="1.3" />
<text x="357.67" y="423" font-size="7.8" text-anchor="middle" font-weight="normal" font-style="normal" fill="#000" >10</text>
<line x1="388.89" y1="409" x2="388.89" y2="413.5" stroke="#000" stroke-width="1.3" />
<text x="388.89" y="423" font-size="7.8" text-anchor="middle" font-weight="normal" font-style="normal" fill="#000" >20</text>
<line x1="420.11" y1="409" x2="420.11" y2="413.5" stroke="#000" stroke-width="1.3" />
<text x="420.11" y="423" font-size="7.8" text-anchor="middle" font-weight="normal" font-style="normal" fill="#000" >30</text>
<line x1="451.33" y1="409" x2="451.33" y2="413.5" stroke="#000" stroke-width="1.3" />
<text x="451.33" y="423" font-size="7.8" text-anchor="middle" font-weight="normal" font-style="normal" fill="#000" >40</text>
<line x1="482.55" y1="409" x2="482.55" y2="413.5" stroke="#000" stroke-width="1.3" />
<text x="482.55" y="423" font-size="7.8" text-anchor="middle" font-weight="normal" font-style="normal" fill="#000" >50</text>
<line x1="513.77" y1="409" x2="513.77" y2="413.5" stroke="#000" stroke-width="1.3" />
<text x="513.77" y="423" font-size="7.8" text-anchor="middle" font-weight="normal" font-style="normal" fill="#000" >60</text>
<line x1="544.99" y1="409" x2="544.99" y2="413.5" stroke="#000" stroke-width="1.3" />
<text x="544.99" y="423" font-size="7.8" text-anchor="middle" font-weight="normal" font-style="normal" fill="#000" >70</text>
<line x1="576.21" y1="409" x2="576.21" y2="413.5" stroke="#000" stroke-width="1.3" />
<text x="576.21" y="423" font-size="7.8" text-anchor="middle" font-weight="normal" font-style="normal" fill="#000" >80</text>
<line x1="607.43" y1="409" x2="607.43" y2="413.5" stroke="#000" stroke-width="1.3" />
<text x="607.43" y="423" font-size="7.8" text-anchor="middle" font-weight="normal" font-style="normal" fill="#000" >90</text>
<line x1="638.65" y1="409" x2="638.65" y2="413.5" stroke="#000" stroke-width="1.3" />
<text x="638.65" y="423" font-size="7.8" text-anchor="middle" font-weight="normal" font-style="normal" fill="#000" >100</text>
<line x1="669.87" y1="409" x2="669.87" y2="413.5" stroke="#000" stroke-width="1.3" />
<text x="669.87" y="423" font-size="7.8" text-anchor="middle" font-weight="normal" font-style="normal" fill="#000" >110</text>
<line x1="701.09" y1="409" x2="701.09" y2="413.5" stroke="#000" stroke-width="1.3" />
<text x="701.09" y="423" font-size="7.8" text-anchor="middle" font-weight="normal" font-style="normal" fill="#000" >120</text>
<line x1="732.31" y1="409" x2="732.31" y2="413.5" stroke="#000" stroke-width="1.3" />
<text x="732.31" y="423" font-size="7.8" text-anchor="middle" font-weight="normal" font-style="normal" fill="#000" >130</text>
<line x1="763.53" y1="409" x2="763.53" y2="413.5" stroke="#000" stroke-width="1.3" />
<text x="763.53" y="423" font-size="7.8" text-anchor="middle" font-weight="normal" font-style="normal" fill="#000" >140</text>
<line x1="794.75" y1="409" x2="794.75" y2="413.5" stroke="#000" stroke-width="1.3" />
<text x="794.75" y="423" font-size="7.8" text-anchor="middle" font-weight="normal" font-style="normal" fill="#000" >150</text>
<line x1="825.97" y1="409" x2="825.97" y2="413.5" stroke="#000" stroke-width="1.3" />
<text x="825.97" y="423" font-size="7.8" text-anchor="middle" font-weight="normal" font-style="normal" fill="#000" >160</text>
<line x1="857.19" y1="409" x2="857.19" y2="413.5" stroke="#000" stroke-width="1.3" />
<text x="857.19" y="423" font-size="7.8" text-anchor="middle" font-weight="normal" font-style="normal" fill="#000" >170</text>
<text x="177.3" y="437.2" font-size="8" text-anchor="middle" font-weight="bold" font-style="normal" fill="#000" >Chromosome 17 (Mb)</text>
<text x="593.5" y="437.2" font-size="8" text-anchor="middle" font-weight="bold" font-style="normal" fill="#000" >Chromosome 6 (Mb)</text>
<text x="2.8" y="459.6" font-size="16" text-anchor="start" font-weight="bold" font-style="normal" fill="#000" >C</text>
<text x="49.6" y="465.6" font-size="11.4" text-anchor="start" font-weight="normal" font-style="normal" fill="#111" >G100k-31</text>
<text x="50.4" y="478.8" font-size="11.4" text-anchor="start" font-weight="normal" font-style="normal" fill="#111" >chr6</text>
<text x="289.6" y="478.8" font-size="11.4" text-anchor="start" font-weight="normal" font-style="normal" fill="#111" >chr17</text>
<text x="25.4" y="548.6" font-size="11.1" text-anchor="middle" font-weight="normal" font-style="normal" fill="#222" transform="rotate(-90 25.4 548.6)">Assembly allele 1 (Mb)</text>
<line x1="65.3" y1="577.7" x2="389" y2="577.7" stroke="#8a8a8a" stroke-width="1.1" stroke-dasharray="1.6 3.4"/>
<line x1="249.7" y1="496" x2="314.5" y2="496" stroke="#8a8a8a" stroke-width="1.1" stroke-dasharray="1.6 3.4"/>
<line x1="256" y1="539.3" x2="331.5" y2="539.3" stroke="#8a8a8a" stroke-width="1.1" stroke-dasharray="1.6 3.4"/>
<line x1="338.4" y1="544" x2="418.5" y2="544" stroke="#8a8a8a" stroke-width="1.1" stroke-dasharray="1.6 3.4"/>
<line x1="202.3" y1="545.9" x2="418.5" y2="545.9" stroke="#8a8a8a" stroke-width="1.1" stroke-dasharray="1.6 3.4"/>
<path d="M51.3 489.8 L51.3 606.2 L277.8 606.2" stroke="#4a4a4a" stroke-width="1.3" fill="none" />
<line x1="47" y1="514.8" x2="51.3" y2="514.8" stroke="#4a4a4a" stroke-width="1.1" />
<text x="44.7" y="518.1" font-size="9.2" text-anchor="end" font-weight="normal" font-style="normal" fill="#222" >0.3</text>
<line x1="47" y1="543.7" x2="51.3" y2="543.7" stroke="#4a4a4a" stroke-width="1.1" />
<text x="44.7" y="547" font-size="9.2" text-anchor="end" font-weight="normal" font-style="normal" fill="#222" >0.2</text>
<line x1="47" y1="572.6" x2="51.3" y2="572.6" stroke="#4a4a4a" stroke-width="1.1" />
<text x="44.7" y="575.9" font-size="9.2" text-anchor="end" font-weight="normal" font-style="normal" fill="#222" >0.1</text>
<line x1="47" y1="601.7" x2="51.3" y2="601.7" stroke="#4a4a4a" stroke-width="1.1" />
<text x="44.7" y="605" font-size="9.2" text-anchor="end" font-weight="normal" font-style="normal" fill="#222" >0.0</text>
<line x1="61.2" y1="606.2" x2="61.2" y2="611.8" stroke="#4a4a4a" stroke-width="1.1" />
<text x="61.2" y="621" font-size="9.2" text-anchor="middle" font-weight="normal" font-style="normal" fill="#222" >49</text>
<line x1="105.3" y1="606.2" x2="105.3" y2="611.8" stroke="#4a4a4a" stroke-width="1.1" />
<text x="105.3" y="621" font-size="9.2" text-anchor="middle" font-weight="normal" font-style="normal" fill="#222" >50</text>
<line x1="148.9" y1="606.2" x2="148.9" y2="611.8" stroke="#4a4a4a" stroke-width="1.1" />
<text x="148.9" y="621" font-size="9.2" text-anchor="middle" font-weight="normal" font-style="normal" fill="#222" >51</text>
<line x1="192.5" y1="606.2" x2="192.5" y2="611.8" stroke="#4a4a4a" stroke-width="1.1" />
<text x="192.5" y="621" font-size="9.2" text-anchor="middle" font-weight="normal" font-style="normal" fill="#222" >52</text>
<line x1="236.1" y1="606.2" x2="236.1" y2="611.8" stroke="#4a4a4a" stroke-width="1.1" />
<text x="236.1" y="621" font-size="9.2" text-anchor="middle" font-weight="normal" font-style="normal" fill="#222" >53</text>
<path d="M289.8 489.8 L289.8 606.2 L425.5 606.2" stroke="#4a4a4a" stroke-width="1.3" fill="none" />
<line x1="294.9" y1="606.2" x2="294.9" y2="611.8" stroke="#4a4a4a" stroke-width="1.1" />
<text x="294.9" y="621" font-size="9.2" text-anchor="middle" font-weight="normal" font-style="normal" fill="#222" >10</text>
<line x1="340.1" y1="606.2" x2="340.1" y2="611.8" stroke="#4a4a4a" stroke-width="1.1" />
<text x="340.1" y="621" font-size="9.2" text-anchor="middle" font-weight="normal" font-style="normal" fill="#222" >11</text>
<line x1="386.4" y1="606.2" x2="386.4" y2="611.8" stroke="#4a4a4a" stroke-width="1.1" />
<text x="386.4" y="621" font-size="9.2" text-anchor="middle" font-weight="normal" font-style="normal" fill="#222" >12</text>
<line x1="422" y1="606.2" x2="422" y2="611.8" stroke="#4a4a4a" stroke-width="1.1" />
<text x="422" y="621" font-size="9.2" text-anchor="middle" font-weight="normal" font-style="normal" fill="#222" >22.3</text>
<line x1="415" y1="601" x2="419.2" y2="611.5" stroke="#333" stroke-width="2" />
<text x="362.6" y="636.4" font-size="11.2" text-anchor="middle" font-weight="normal" font-style="normal" fill="#222" >Chromosome position (Mb)</text>
<line x1="246.4" y1="496.2" x2="252.6" y2="539.6" stroke="#ef8a5c" stroke-width="6.6" stroke-linecap="butt"/>
<line x1="199.2" y1="546.1" x2="194.7" y2="576.4" stroke="#8e9fd3" stroke-width="6" stroke-linecap="butt"/>
<line x1="211.1" y1="578.8" x2="208.2" y2="601.7" stroke="#8e9fd3" stroke-width="6.2" stroke-linecap="butt"/>
<line x1="58" y1="578.6" x2="65.3" y2="577.3" stroke="#ef8a5c" stroke-width="1.8" stroke-linecap="butt"/>
<line x1="314.5" y1="495.2" x2="320.5" y2="496.4" stroke="#8e9fd3" stroke-width="1.6" stroke-linecap="butt"/>
<polygon points="331.5,540.6 337.6,539.6 338.4,543.6 332.2,544.4" fill="#ef8a5c"/>
<line x1="418.6" y1="542.8" x2="423.6" y2="548.2" stroke="#8e9fd3" stroke-width="3.6" stroke-linecap="butt"/>
<line x1="419.5" y1="548.5" x2="421.5" y2="545.5" stroke="#ef8a5c" stroke-width="1.2" stroke-linecap="butt"/>
<line x1="356" y1="578.5" x2="362.2" y2="578.3" stroke="#ef8a5c" stroke-width="1.3" stroke-linecap="butt"/>
<line x1="389" y1="578.4" x2="395.6" y2="578.6" stroke="#8e9fd3" stroke-width="1.1" stroke-linecap="butt"/>
<text x="25.4" y="704.2" font-size="11.1" text-anchor="middle" font-weight="normal" font-style="normal" fill="#222" transform="rotate(-90 25.4 704.2)">Assembly allele 2 (Mb)</text>
<path d="M51.3 646.6 L51.3 763.1 L277.8 763.1" stroke="#4a4a4a" stroke-width="1.3" fill="none" />
<line x1="47" y1="650" x2="51.3" y2="650" stroke="#4a4a4a" stroke-width="1.1" />
<text x="44.7" y="653.3" font-size="9.2" text-anchor="end" font-weight="normal" font-style="normal" fill="#222" >0.8</text>
<line x1="47" y1="676.9" x2="51.3" y2="676.9" stroke="#4a4a4a" stroke-width="1.1" />
<text x="44.7" y="680.2" font-size="9.2" text-anchor="end" font-weight="normal" font-style="normal" fill="#222" >0.6</text>
<line x1="47" y1="703.8" x2="51.3" y2="703.8" stroke="#4a4a4a" stroke-width="1.1" />
<text x="44.7" y="707.1" font-size="9.2" text-anchor="end" font-weight="normal" font-style="normal" fill="#222" >0.4</text>
<line x1="47" y1="730.7" x2="51.3" y2="730.7" stroke="#4a4a4a" stroke-width="1.1" />
<text x="44.7" y="734" font-size="9.2" text-anchor="end" font-weight="normal" font-style="normal" fill="#222" >0.2</text>
<line x1="47" y1="757.6" x2="51.3" y2="757.6" stroke="#4a4a4a" stroke-width="1.1" />
<text x="44.7" y="760.9" font-size="9.2" text-anchor="end" font-weight="normal" font-style="normal" fill="#222" >0.0</text>
<line x1="61.6" y1="763.1" x2="61.6" y2="768.7" stroke="#4a4a4a" stroke-width="1.1" />
<text x="61.6" y="777.9" font-size="9.2" text-anchor="middle" font-weight="normal" font-style="normal" fill="#222" >49</text>
<line x1="105.3" y1="763.1" x2="105.3" y2="768.7" stroke="#4a4a4a" stroke-width="1.1" />
<text x="105.3" y="777.9" font-size="9.2" text-anchor="middle" font-weight="normal" font-style="normal" fill="#222" >50</text>
<line x1="148.9" y1="763.1" x2="148.9" y2="768.7" stroke="#4a4a4a" stroke-width="1.1" />
<text x="148.9" y="777.9" font-size="9.2" text-anchor="middle" font-weight="normal" font-style="normal" fill="#222" >51</text>
<line x1="192.5" y1="763.1" x2="192.5" y2="768.7" stroke="#4a4a4a" stroke-width="1.1" />
<text x="192.5" y="777.9" font-size="9.2" text-anchor="middle" font-weight="normal" font-style="normal" fill="#222" >52</text>
<line x1="236.1" y1="763.1" x2="236.1" y2="768.7" stroke="#4a4a4a" stroke-width="1.1" />
<text x="236.1" y="777.9" font-size="9.2" text-anchor="middle" font-weight="normal" font-style="normal" fill="#222" >53</text>
<text x="167.5" y="792.3" font-size="11.2" text-anchor="middle" font-weight="normal" font-style="normal" fill="#222" >Chromosome position (Mb)</text>
<line x1="234.5" y1="757.6" x2="268" y2="652.5" stroke="#8e9fd3" stroke-width="6.2" stroke-linecap="butt"/>
<text x="316.1" y="689.1" font-size="10.1" text-anchor="start" font-weight="normal" font-style="normal" fill="#222" >Alignment orientation</text>
<rect x="327.5" y="706.1" width="7.6" height="8" fill="#8e9fd3" />
<text x="339.7" y="714.7" font-size="10" text-anchor="start" font-weight="normal" font-style="normal" fill="#222" >Forward</text>
<rect x="327.5" y="725.9" width="7.6" height="8.2" fill="#ef8a5c" />
<text x="339.7" y="734.5" font-size="10" text-anchor="start" font-weight="normal" font-style="normal" fill="#222" >Reverse</text>
<text x="471" y="459.6" font-size="16" text-anchor="start" font-weight="bold" font-style="normal" fill="#000" >D</text>
<text x="505.1" y="465.6" font-size="11.4" text-anchor="start" font-weight="normal" font-style="normal" fill="#111" >G100k-66</text>
<text x="505.1" y="478.8" font-size="11.4" text-anchor="start" font-weight="normal" font-style="normal" fill="#111" >chr6</text>
<text x="579.1" y="478.8" font-size="11.4" text-anchor="start" font-weight="normal" font-style="normal" fill="#111" >chr17</text>
<text x="479.6" y="548.2" font-size="11.1" text-anchor="middle" font-weight="normal" font-style="normal" fill="#222" transform="rotate(-90 479.6 548.2)">Assembly allele 1 (Mb)</text>
<line x1="542.3" y1="504" x2="593.6" y2="504" stroke="#8a8a8a" stroke-width="1.1" stroke-dasharray="1.6 3.4"/>
<line x1="511.8" y1="527.2" x2="589.5" y2="527.2" stroke="#8a8a8a" stroke-width="1.1" stroke-dasharray="1.6 3.4"/>
<line x1="523.8" y1="594.7" x2="841" y2="594.7" stroke="#8a8a8a" stroke-width="1.1" stroke-dasharray="1.6 3.4"/>
<path d="M505.3 488.3 L505.3 606.3 L570 606.3" stroke="#4a4a4a" stroke-width="1.3" fill="none" />
<line x1="501" y1="514.8" x2="505.3" y2="514.8" stroke="#4a4a4a" stroke-width="1.1" />
<text x="498.7" y="518.1" font-size="9.2" text-anchor="end" font-weight="normal" font-style="normal" fill="#222" >0.2</text>
<line x1="501" y1="557.3" x2="505.3" y2="557.3" stroke="#4a4a4a" stroke-width="1.1" />
<text x="498.7" y="560.6" font-size="9.2" text-anchor="end" font-weight="normal" font-style="normal" fill="#222" >0.1</text>
<line x1="501" y1="599.9" x2="505.3" y2="599.9" stroke="#4a4a4a" stroke-width="1.1" />
<text x="498.7" y="603.2" font-size="9.2" text-anchor="end" font-weight="normal" font-style="normal" fill="#222" >0.0</text>
<line x1="516.8" y1="606.3" x2="516.8" y2="611.9" stroke="#4a4a4a" stroke-width="1.1" />
<text x="516.8" y="621.1" font-size="9.2" text-anchor="middle" font-weight="normal" font-style="normal" fill="#222" >36.8</text>
<line x1="564.5" y1="606.3" x2="564.5" y2="611.9" stroke="#4a4a4a" stroke-width="1.1" />
<text x="564.5" y="621.1" font-size="9.2" text-anchor="middle" font-weight="normal" font-style="normal" fill="#222" >37.4</text>
<path d="M580.2 488.3 L580.2 606.3 L857 606.3" stroke="#4a4a4a" stroke-width="1.3" fill="none" />
<line x1="616.4" y1="606.3" x2="616.4" y2="611.9" stroke="#4a4a4a" stroke-width="1.1" />
<text x="616.4" y="621.1" font-size="9.2" text-anchor="middle" font-weight="normal" font-style="normal" fill="#222" >8</text>
<line x1="691.2" y1="606.3" x2="691.2" y2="611.9" stroke="#4a4a4a" stroke-width="1.1" />
<text x="691.2" y="621.1" font-size="9.2" text-anchor="middle" font-weight="normal" font-style="normal" fill="#222" >9</text>
<line x1="766" y1="606.3" x2="766" y2="611.9" stroke="#4a4a4a" stroke-width="1.1" />
<text x="766" y="621.1" font-size="9.2" text-anchor="middle" font-weight="normal" font-style="normal" fill="#222" >10</text>
<line x1="840.8" y1="606.3" x2="840.8" y2="611.9" stroke="#4a4a4a" stroke-width="1.1" />
<text x="840.8" y="621.1" font-size="9.2" text-anchor="middle" font-weight="normal" font-style="normal" fill="#222" >11</text>
<text x="719.5" y="636.4" font-size="11.2" text-anchor="middle" font-weight="normal" font-style="normal" fill="#222" >Chromosome position (Mb)</text>
<line x1="509" y1="528" x2="520.7" y2="594.4" stroke="#ef8a5c" stroke-width="6.3" stroke-linecap="butt"/>
<line x1="596.6" y1="504" x2="592.7" y2="527.2" stroke="#8e9fd3" stroke-width="6.2" stroke-linecap="butt"/>
<line x1="535.8" y1="503" x2="542.3" y2="504.2" stroke="#8e9fd3" stroke-width="1.4" stroke-linecap="butt"/>
<line x1="841.5" y1="596.2" x2="848.5" y2="598.2" stroke="#8e9fd3" stroke-width="4.2" stroke-linecap="butt"/>
<text x="479.6" y="705" font-size="11.1" text-anchor="middle" font-weight="normal" font-style="normal" fill="#222" transform="rotate(-90 479.6 705)">Assembly allele 2 (Mb)</text>
<path d="M505.3 647.5 L505.3 763.1 L570 763.1" stroke="#4a4a4a" stroke-width="1.3" fill="none" />
<line x1="501" y1="670" x2="505.3" y2="670" stroke="#4a4a4a" stroke-width="1.1" />
<text x="498.7" y="673.3" font-size="9.2" text-anchor="end" font-weight="normal" font-style="normal" fill="#222" >0.6</text>
<line x1="501" y1="699" x2="505.3" y2="699" stroke="#4a4a4a" stroke-width="1.1" />
<text x="498.7" y="702.3" font-size="9.2" text-anchor="end" font-weight="normal" font-style="normal" fill="#222" >0.4</text>
<line x1="501" y1="728" x2="505.3" y2="728" stroke="#4a4a4a" stroke-width="1.1" />
<text x="498.7" y="731.3" font-size="9.2" text-anchor="end" font-weight="normal" font-style="normal" fill="#222" >0.2</text>
<line x1="501" y1="757" x2="505.3" y2="757" stroke="#4a4a4a" stroke-width="1.1" />
<text x="498.7" y="760.3" font-size="9.2" text-anchor="end" font-weight="normal" font-style="normal" fill="#222" >0.0</text>
<line x1="516.8" y1="763.1" x2="516.8" y2="768.7" stroke="#4a4a4a" stroke-width="1.1" />
<text x="516.8" y="777.9" font-size="9.2" text-anchor="middle" font-weight="normal" font-style="normal" fill="#222" >36.8</text>
<line x1="564.5" y1="763.1" x2="564.5" y2="768.7" stroke="#4a4a4a" stroke-width="1.1" />
<text x="564.5" y="777.9" font-size="9.2" text-anchor="middle" font-weight="normal" font-style="normal" fill="#222" >37.4</text>
<text x="541" y="792.3" font-size="11.2" text-anchor="middle" font-weight="normal" font-style="normal" fill="#222" >Chromosome position (Mb)</text>
<line x1="507" y1="652.5" x2="564.5" y2="755" stroke="#ef8a5c" stroke-width="6.5" stroke-linecap="butt"/>
<text x="671.8" y="689.1" font-size="10.1" text-anchor="start" font-weight="normal" font-style="normal" fill="#222" >Alignment orientation</text>
<rect x="683.2" y="706.1" width="7.6" height="8" fill="#8e9fd3" />
<text x="695.4" y="714.7" font-size="10" text-anchor="start" font-weight="normal" font-style="normal" fill="#222" >Forward</text>
<rect x="683.2" y="725.9" width="7.6" height="8.2" fill="#ef8a5c" />
<text x="695.4" y="734.5" font-size="10" text-anchor="start" font-weight="normal" font-style="normal" fill="#222" >Reverse</text>
<text x="3" y="807.8" font-size="16" text-anchor="start" font-weight="bold" font-style="normal" fill="#000" >E</text>
<path d="M46.3 921.7 L46.3 909.69 L47.5 909.69 L47.5 909.26 L48.42 909.26 L48.42 905.61 L48.5 905.61 L48.5 896.52 L49.91 896.52 L49.91 895.06 L50.79 895.06 L50.79 895.91 L51.73 895.91 L51.73 895.92 L53.05 895.92 L53.05 894.3 L54.14 894.3 L54.14 897.5 L55.68 897.5 L55.68 893.9 L56.96 893.9 L56.96 898.31 L58.9 898.31 L58.9 895.33 L60 895.33 L60 897.27 L61 897.27 L61 897.18 L62.76 897.18 L62.76 893.58 L63.8 893.58 L63.8 894.69 L65.06 894.69 L65.06 896.77 L66.51 896.77 L66.51 896.43 L67.58 896.43 L67.58 894.63 L69.18 894.63 L69.18 896.99 L70.68 896.99 L70.68 895.17 L72.02 895.17 L72.02 899.69 L73.65 899.69 L73.65 894.16 L74.76 894.16 L74.76 895.27 L76.58 895.27 L76.58 895.09 L78.24 895.09 L78.24 901.9 L79.21 901.9 L79.21 896.53 L80.52 896.53 L80.52 895.37 L81.91 895.37 L81.91 894.88 L82.79 894.88 L82.79 893.61 L84.27 893.61 L84.27 895.4 L86.09 895.4 L86.09 899.49 L87.6 899.49 L87.6 893.01 L89.09 893.01 L89.09 897.77 L90.99 897.77 L90.99 896.41 L92.36 896.41 L92.36 896.2 L93.98 896.2 L93.98 900.56 L95.55 900.56 L95.55 896.73 L96.71 896.73 L96.71 896.71 L97.98 896.71 L97.98 896.58 L99.34 896.58 L99.34 897.5 L100 897.5 L100 897.47 L101.7 897.47 L101.7 896.89 L102.69 896.89 L102.69 898.78 L104.5 898.78 L104.5 894.24 L105.43 894.24 L105.43 897.36 L107.26 897.36 L107.26 897.48 L109.02 897.48 L109.02 895.06 L110.32 895.06 L110.32 899.93 L111.57 899.93 L111.57 892.73 L112.57 892.73 L112.57 896.16 L113.61 896.16 L113.61 897.36 L115 897.36 L115 895.79 L116.49 895.79 L116.49 895.86 L117.8 895.86 L117.8 891.05 L119.06 891.05 L119.06 893.47 L120.67 893.47 L120.67 893.13 L122.09 893.13 L122.09 893.21 L122.99 893.21 L122.99 895.92 L124.84 895.92 L124.84 891.01 L126.57 891.01 L126.57 894.12 L127.85 894.12 L127.85 895.33 L129.4 895.33 L129.4 895.9 L130.31 895.9 L130.31 895.14 L131.33 895.14 L131.33 894.53 L132.55 894.53 L132.55 894.41 L133.56 894.41 L133.56 894.02 L134.52 894.02 L134.52 894.58 L136.33 894.58 L136.33 895 L137.86 895 L137.86 895.2 L139.09 895.2 L139.09 896.66 L140.34 896.66 L140.34 896.48 L142.29 896.48 L142.29 892.77 L143.65 892.77 L143.65 893.59 L144.61 893.59 L144.61 893.08 L145.83 893.08 L145.83 897.08 L146.85 897.08 L146.85 895.59 L147.72 895.59 L147.72 892.44 L148.72 892.44 L148.72 895.52 L150 895.52 L150 899.41 L151.94 899.41 L151.94 898.48 L153.74 898.48 L153.74 897.53 L154.99 897.53 L154.99 899.34 L156.02 899.34 L156.02 896.56 L157.73 896.56 L157.73 899.62 L158.94 899.62 L158.94 902.6 L160 902.6 L160 888.27 L161.79 888.27 L161.79 883.6 L163.46 883.6 L163.46 885.28 L164.56 885.28 L164.56 886.97 L165.43 886.97 L165.43 886.93 L166.3 886.93 L166.3 888.77 L167.92 888.77 L167.92 882.87 L169.83 882.87 L169.83 888.92 L171.77 888.92 L171.77 886.54 L173.68 886.54 L173.68 888.61 L174.78 888.61 L174.78 888.38 L175.84 888.38 L175.84 890.32 L177.69 890.32 L177.69 884.82 L179.47 884.82 L179.47 888.15 L181.2 888.15 L181.2 885.51 L182.14 885.51 L182.14 884.17 L183.86 884.17 L183.86 886.71 L185 886.71 L185 895.17 L186.72 895.17 L186.72 896.79 L187.94 896.79 L187.94 890.12 L189.22 890.12 L189.22 898.3 L190.51 898.3 L190.51 894.3 L191.54 894.3 L191.54 897.94 L192.52 897.94 L192.52 899.01 L194.27 899.01 L194.27 898.18 L195.27 898.18 L195.27 890.69 L196.84 890.69 L196.84 894.75 L198.08 894.75 L198.08 895.52 L198.93 895.52 L198.93 894.45 L200.86 894.45 L200.86 894.04 L202.75 894.04 L202.75 898.72 L204.07 898.72 L204.07 893.52 L205.15 893.52 L205.15 895.89 L206.27 895.89 L206.27 897.79 L207.77 897.79 L207.77 895.53 L208.9 895.53 L208.9 897.04 L210.76 897.04 L210.76 894.09 L211.99 894.09 L211.99 897.41 L213.85 897.41 L213.85 898.89 L215.16 898.89 L215.16 895.76 L216.59 895.76 L216.59 899.16 L218.02 899.16 L218.02 897.36 L219.06 897.36 L219.06 897.55 L219.91 897.55 L219.91 896.06 L221.28 896.06 L221.28 895.65 L222.93 895.65 L222.93 896.8 L224.35 896.8 L224.35 897.71 L225.81 897.71 L225.81 896.68 L227.28 896.68 L227.28 897.12 L228.4 897.12 L228.4 901.16 L229.81 901.16 L229.81 898.14 L231.28 898.14 L231.28 893.55 L232 893.55 L232 888.61 L233.53 888.61 L233.53 890.92 L235.14 890.92 L235.14 888.77 L236.49 888.77 L236.49 890.53 L238.38 890.53 L238.38 894.41 L240 894.41 L240 892.66 L241.13 892.66 L241.13 899.59 L242.6 899.59 L242.6 894.66 L243.59 894.66 L243.59 895.27 L244.57 895.27 L244.57 896.28 L245.68 896.28 L245.68 894.3 L246.6 894.3 L246.6 892.94 L248.44 892.94 L248.44 895.38 L249.46 895.38 L249.46 893.13 L250.46 893.13 L250.46 897.38 L252.29 897.38 L252.29 895.71 L254.19 895.71 L254.19 889.96 L255.48 889.96 L255.48 896.48 L257.25 896.48 L257.25 893.81 L258.27 893.81 L258.27 897 L259.49 897 L259.49 894.66 L260.55 894.66 L260.55 898.91 L261.41 898.91 L261.41 895.64 L262.87 895.64 L262.87 896.14 L264.08 896.14 L264.08 895.27 L265.62 895.27 L265.62 895.94 L267.57 895.94 L267.57 896.93 L268 896.93 L268 885.83 L269.14 885.83 L269.14 886.29 L270.02 886.29 L270.02 884.44 L271.01 884.44 L271.01 889.14 L272.32 889.14 L272.32 884.05 L273.45 884.05 L273.45 888.27 L274.46 888.27 L274.46 884.74 L276 884.74 L276 893.86 L276.94 893.86 L276.94 892.13 L278.26 892.13 L278.26 893.75 L279.18 893.75 L279.18 890.1 L280.92 890.1 L280.92 891.72 L281.85 891.72 L281.85 890.72 L283.66 890.72 L283.66 890.05 L285 890.05 L285 893.62 L286.88 893.62 L286.88 893.26 L288.02 893.26 L288.02 893.41 L289.13 893.41 L289.13 892.03 L290.09 892.03 L290.09 892.29 L291.16 892.29 L291.16 890.65 L292.35 890.65 L292.35 895.04 L293.51 895.04 L293.51 892.73 L294.91 892.73 L294.91 893.66 L295 893.66 L295 890.24 L296.12 890.24 L296.12 887.31 L297.58 887.31 L297.58 882.39 L298.63 882.39 L298.63 887.74 L299 887.74 L299 892.87 L300.76 892.87 L300.76 895.97 L302.53 895.97 L302.53 891.95 L303.81 891.95 L303.81 894.87 L305.75 894.87 L305.75 896.55 L306.98 896.55 L306.98 892.28 L308.53 892.28 L308.53 894.62 L309.82 894.62 L309.82 895.55 L310.81 895.55 L310.81 894.91 L311.73 894.91 L311.73 893.47 L312.75 893.47 L312.75 897.19 L313.68 897.19 L313.68 891.6 L315.28 891.6 L315.28 895.08 L316.43 895.08 L316.43 896.66 L317.79 896.66 L317.79 893.53 L318.8 893.53 L318.8 895.52 L320.72 895.52 L320.72 893.57 L322.65 893.57 L322.65 894.56 L324.57 894.56 L324.57 894.94 L325.76 894.94 L325.76 895.07 L327 895.07 L327 892.66 L328.37 892.66 L328.37 894.39 L329.78 894.39 L329.78 894.76 L330.62 894.76 L330.62 895.95 L331.91 895.95 L331.91 897.16 L332.8 897.16 L332.8 895.98 L333.9 895.98 L333.9 892.79 L335.39 892.79 L335.39 895.91 L336.97 895.91 L336.97 898.43 L337 898.43 L337 915.63 L338.21 915.63 L338.21 918.9 L340.15 918.9 L340.15 919.59 L341.71 919.59 L341.71 919.15 L342.6 919.15 L342.6 913.37 L344.14 913.37 L344.14 917.42 L345 917.42 L345 893.99 L346.43 893.99 L346.43 896.84 L347.83 896.84 L347.83 891.89 L349.6 891.89 L349.6 897.37 L351.09 897.37 L351.09 893.11 L352.71 893.11 L352.71 896.05 L353.81 896.05 L353.81 895.21 L354 895.21 L354 921.7 L354.96 921.7 L354.96 918.81 L356.5 918.81 L356.5 920.02 L357 920.02 L357 892.9 L357.84 892.9 L357.84 894.55 L359.58 894.55 L359.58 891.35 L361 891.35 L361 876.99 L362.58 876.99 L362.58 875.32 L363.7 875.32 L363.7 873.68 L364 873.68 L364 899.22 L365.07 899.22 L365.07 898.31 L366.74 898.31 L366.74 895.65 L368.01 895.65 L368.01 894.62 L369.38 894.62 L369.38 892.88 L370 892.88 L370 894 L371.56 894 L371.56 893.53 L372.68 893.53 L372.68 892.13 L373 892.13 L373 852.44 L373.85 852.44 L373.85 843.24 L374.76 843.24 L374.76 839.75 L375 839.75 L375 828.39 L376.6 828.39 L376.6 831.33 L377 831.33 L377 853.11 L378.36 853.11 L378.36 873.3 L379 873.3 L379 898.35 L380.94 898.35 L380.94 902.69 L382.29 902.69 L382.29 908.37 L383 908.37 L383 911.57 L384.14 911.57 L384.14 914.27 L385.22 914.27 L385.22 913.44 L386.71 913.44 L386.71 910.29 L387.71 910.29 L387.71 915.29 L388.69 915.29 L388.69 912.71 L390 912.71 L390 921.7 Z" fill="#cbc7c8" stroke="none"/>
<path d="M40 921.7 L40 805.7 L395.4 805.7 L395.4 921.7" stroke="#3a3a3a" stroke-width="1.2" fill="none" />
<line x1="37" y1="921.7" x2="400" y2="921.7" stroke="#3a3a3a" stroke-width="1.2" />
<line x1="36.8" y1="821.2" x2="40" y2="821.2" stroke="#3a3a3a" stroke-width="1.1" />
<text x="35.5" y="824.5" font-size="9.4" text-anchor="end" font-weight="normal" font-style="normal" fill="#222" >600</text>
<line x1="36.8" y1="838" x2="40" y2="838" stroke="#3a3a3a" stroke-width="1.1" />
<text x="35.5" y="841.3" font-size="9.4" text-anchor="end" font-weight="normal" font-style="normal" fill="#222" >500</text>
<line x1="36.8" y1="854.5" x2="40" y2="854.5" stroke="#3a3a3a" stroke-width="1.1" />
<text x="35.5" y="857.8" font-size="9.4" text-anchor="end" font-weight="normal" font-style="normal" fill="#222" >400</text>
<line x1="36.8" y1="871.2" x2="40" y2="871.2" stroke="#3a3a3a" stroke-width="1.1" />
<text x="35.5" y="874.5" font-size="9.4" text-anchor="end" font-weight="normal" font-style="normal" fill="#222" >300</text>
<line x1="36.8" y1="888" x2="40" y2="888" stroke="#3a3a3a" stroke-width="1.1" />
<text x="35.5" y="891.3" font-size="9.4" text-anchor="end" font-weight="normal" font-style="normal" fill="#222" >200</text>
<line x1="36.8" y1="905" x2="40" y2="905" stroke="#3a3a3a" stroke-width="1.1" />
<text x="35.5" y="908.3" font-size="9.4" text-anchor="end" font-weight="normal" font-style="normal" fill="#222" >100</text>
<text x="34" y="930.5" font-size="9.4" text-anchor="end" font-weight="normal" font-style="normal" fill="#222" >0</text>
<line x1="395.4" y1="809.8" x2="399.5" y2="809.8" stroke="#3a3a3a" stroke-width="1.1" />
<text x="401.8" y="813.1" font-size="9.4" text-anchor="start" font-weight="normal" font-style="normal" fill="#222" >12</text>
<line x1="395.4" y1="828.2" x2="399.5" y2="828.2" stroke="#3a3a3a" stroke-width="1.1" />
<text x="401.8" y="831.5" font-size="9.4" text-anchor="start" font-weight="normal" font-style="normal" fill="#222" >10</text>
<line x1="395.4" y1="847" x2="399.5" y2="847" stroke="#3a3a3a" stroke-width="1.1" />
<text x="401.8" y="850.3" font-size="9.4" text-anchor="start" font-weight="normal" font-style="normal" fill="#222" >8</text>
<line x1="395.4" y1="865.6" x2="399.5" y2="865.6" stroke="#3a3a3a" stroke-width="1.1" />
<text x="401.8" y="868.9" font-size="9.4" text-anchor="start" font-weight="normal" font-style="normal" fill="#222" >6</text>
<line x1="395.4" y1="884.4" x2="399.5" y2="884.4" stroke="#3a3a3a" stroke-width="1.1" />
<text x="401.8" y="887.7" font-size="9.4" text-anchor="start" font-weight="normal" font-style="normal" fill="#222" >4</text>
<line x1="395.4" y1="902.8" x2="399.5" y2="902.8" stroke="#3a3a3a" stroke-width="1.1" />
<text x="401.8" y="906.1" font-size="9.4" text-anchor="start" font-weight="normal" font-style="normal" fill="#222" >2</text>
<text x="398.4" y="930.3" font-size="9.4" text-anchor="start" font-weight="normal" font-style="normal" fill="#222" >0</text>
<text x="14.2" y="857" font-size="10.6" text-anchor="middle" font-weight="normal" font-style="normal" fill="#222" transform="rotate(-90 14.2 857)">Coverage</text>
<text x="417.6" y="862" font-size="10.3" text-anchor="middle" font-weight="normal" font-style="normal" fill="#222" transform="rotate(-90 417.6 862)">Copy number</text>
<text x="196.6" y="820.8" font-size="11" text-anchor="middle" font-weight="normal" font-style="normal" fill="#111" >G100k-31</text>
<rect x="46.3" y="862.7" width="2.2" height="3.2" fill="#000" />
<rect x="48.8" y="852" width="42.9" height="3.2" fill="#000" />
<rect x="92.4" y="840.9" width="57.3" height="3.2" fill="#000" />
<rect x="149.7" y="847.1" width="10" height="3.2" fill="#000" />
<rect x="159.7" y="840.9" width="107.4" height="3.2" fill="#000" />
<rect x="269.3" y="838" width="57.9" height="3.2" fill="#000" />
<rect x="337.1" y="899.6" width="1.6" height="3.2" fill="#000" />
<rect x="346.1" y="854.2" width="7.9" height="3.2" fill="#000" />
<rect x="360.5" y="837.1" width="12.1" height="3.2" fill="#000" />
<rect x="373" y="894.2" width="14.7" height="3.2" fill="#000" />
<path d="M48.4 921.7 C52.73 811.03 87.37 811.03 91.7 921.7" stroke="#0e7f86" stroke-width="1.9" fill="none" />
<path d="M149.7 921.7 C150.97 811.03 159.03 811.03 160.3 921.7" stroke="#8a4513" stroke-width="1.9" fill="none" />
<path d="M231.3 921.7 C228.99 811.7 349.31 811.7 347 921.7" stroke="#0e7f86" stroke-width="1.9" fill="none" />
<path d="M268.6 921.7 C268.6 811.7 347 811.7 347 921.7" stroke="#0e7f86" stroke-width="1.9" fill="none" />
<path d="M240.8 921.7 C240.8 813.7 337.2 813.7 337.2 921.7" stroke="#ee1c1c" stroke-width="1.9" fill="none" />
<path d="M240.8 921.7 C244.06 811.7 302.74 811.7 306 921.7" stroke="#8a4513" stroke-width="1.9" fill="none" />
<path d="M268.5 921.7 C268.5 811.7 274 811.7 274 921.7" stroke="#0e7f86" stroke-width="1.8" fill="none" />
<path d="M269.5 921.7 C269.5 811.7 271.8 811.7 271.8 921.7" stroke="#0e7f86" stroke-width="1.3" fill="none" />
<line x1="264.4" y1="831" x2="264.4" y2="921.7" stroke="#8a4513" stroke-width="1.8" />
<line x1="306" y1="838.5" x2="306" y2="921.7" stroke="#8a4513" stroke-width="1.8" />
<path d="M327.3 921.7 C334.16 811.03 366.14 811.03 373 921.7" stroke="#c43ca8" stroke-width="1.9" fill="none" />
<line x1="367.3" y1="838.7" x2="367.3" y2="921.7" stroke="#8a4513" stroke-width="1.8" />
<line x1="332.2" y1="806.5" x2="332.2" y2="921.7" stroke="#1f74c4" stroke-width="1.7" stroke-dasharray="3.2 3"/>
<line x1="357.2" y1="806.5" x2="357.2" y2="921.7" stroke="#1f74c4" stroke-width="1.7" stroke-dasharray="3.2 3"/>
<line x1="342.4" y1="806.5" x2="342.4" y2="933" stroke="#1f74c4" stroke-width="1.7" stroke-dasharray="9 2.6"/>
<line x1="40" y1="933.2" x2="395.4" y2="933.2" stroke="#3a3a3a" stroke-width="1.2" />
<line x1="47" y1="933.2" x2="47" y2="938" stroke="#000" stroke-width="1.2" />
<text x="46.8" y="943.4" font-size="8.9" text-anchor="middle" font-weight="normal" font-style="normal" fill="#222" >37.1</text>
<line x1="120.75" y1="916.7" x2="120.75" y2="921.7" stroke="#3a3a3a" stroke-width="0.9" />
<text x="119.8" y="931.5" font-size="9" text-anchor="middle" font-weight="normal" font-style="italic" fill="#e8342a" >CCND3</text>
<text x="328.5" y="931.3" font-size="8.9" text-anchor="middle" font-weight="normal" font-style="normal" fill="#222" >56.9</text>
<line x1="327.9" y1="933.2" x2="327.9" y2="942" stroke="#000" stroke-width="1.3" />
<text x="322.5" y="949.6" font-size="8.9" text-anchor="middle" font-weight="normal" font-style="normal" fill="#222" >55.6</text>
<line x1="339.3" y1="933.2" x2="339.3" y2="946" stroke="#000" stroke-width="1.3" />
<text x="341" y="954.6" font-size="8.9" text-anchor="middle" font-weight="normal" font-style="normal" fill="#222" >57.1</text>
<text x="347" y="942.9" font-size="8.9" text-anchor="middle" font-weight="normal" font-style="normal" fill="#222" >9.7</text>
<line x1="354.5" y1="933.2" x2="354.5" y2="942" stroke="#000" stroke-width="1.3" />
<text x="359.2" y="949.4" font-size="8.9" text-anchor="middle" font-weight="normal" font-style="normal" fill="#222" >10.2</text>
<line x1="361" y1="933.2" x2="361" y2="934.8" stroke="#000" stroke-width="1.1" />
<line x1="388.4" y1="933.2" x2="388.4" y2="934.8" stroke="#000" stroke-width="1.1" />
<text x="367.3" y="942.9" font-size="8.9" text-anchor="middle" font-weight="normal" font-style="normal" fill="#222" >21.9</text>
<text x="388.2" y="942.9" font-size="8.9" text-anchor="middle" font-weight="normal" font-style="normal" fill="#222" >23.8</text>
<text x="197.5" y="960" font-size="10.7" text-anchor="middle" font-weight="normal" font-style="normal" fill="#222" >chr6</text>
<text x="377.2" y="959.8" font-size="10.6" text-anchor="middle" font-weight="normal" font-style="normal" fill="#222" >chr17</text>
<text x="200" y="973.8" font-size="11.2" text-anchor="middle" font-weight="normal" font-style="normal" fill="#222" >Chromosome position (Mb)</text>
<text x="432" y="808.2" font-size="16" text-anchor="start" font-weight="bold" font-style="normal" fill="#000" >F</text>
<path d="M479.5 924.6 L479.5 905.72 L480.94 905.72 L480.94 908.92 L482 908.92 L482 836.64 L483.51 836.64 L483.51 837.92 L485.02 837.92 L485.02 839.81 L486 839.81 L486 847.93 L487.26 847.93 L487.26 850.23 L488.27 850.23 L488.27 845.1 L489.22 845.1 L489.22 852.09 L491.3 852.09 L491.3 847.44 L492.94 847.44 L492.94 851.06 L494.03 851.06 L494.03 848.14 L495 848.14 L495 847.75 L496.13 847.75 L496.13 848.17 L497.59 848.17 L497.59 849 L499.01 849 L499.01 844.61 L500 844.61 L500 844.55 L501.5 844.55 L501.5 843.52 L502.73 843.52 L502.73 850.56 L504.83 850.56 L504.83 845.47 L506.58 845.47 L506.58 845.71 L507.86 845.71 L507.86 847.39 L508.84 847.39 L508.84 841.34 L510.66 841.34 L510.66 847.95 L512 847.95 L512 835.05 L514.05 835.05 L514.05 835.7 L515.2 835.7 L515.2 829.32 L517.19 829.32 L517.19 838.26 L518.57 838.26 L518.57 834.48 L519.56 834.48 L519.56 834.68 L520 834.68 L520 844.8 L521 844.8 L521 853.89 L522.81 853.89 L522.81 848.83 L523.86 848.83 L523.86 850.26 L524.83 850.26 L524.83 850.78 L526.68 850.78 L526.68 852.79 L527 852.79 L527 859.85 L528.13 859.85 L528.13 858.68 L529.8 858.68 L529.8 858.48 L530.84 858.48 L530.84 860.83 L532.06 860.83 L532.06 860.7 L534.13 860.7 L534.13 857.99 L536.09 857.99 L536.09 856.14 L537.24 856.14 L537.24 863.03 L538.91 863.03 L538.91 861.73 L539.94 861.73 L539.94 859.88 L540 859.88 L540 862 L541.83 862 L541.83 864.69 L542.82 864.69 L542.82 861.15 L543.82 861.15 L543.82 861.75 L545.44 861.75 L545.44 856.5 L546.79 856.5 L546.79 864.27 L548.27 864.27 L548.27 863.37 L549.86 863.37 L549.86 861 L550.95 861 L550.95 862.87 L552 862.87 L552 851.28 L553.13 851.28 L553.13 854.54 L554.92 854.54 L554.92 852.39 L556.96 852.39 L556.96 850.92 L558 850.92 L558 860.42 L559.02 860.42 L559.02 863.84 L559.97 863.84 L559.97 861.67 L561.72 861.67 L561.72 863.68 L562.92 863.68 L562.92 859.22 L564.18 859.22 L564.18 862.12 L565.29 862.12 L565.29 861.42 L566.46 861.42 L566.46 864.47 L568.03 864.47 L568.03 859.72 L569.27 859.72 L569.27 862.67 L571.27 862.67 L571.27 863.07 L572.49 863.07 L572.49 864.14 L573.93 864.14 L573.93 863.34 L575.27 863.34 L575.27 864.43 L576.86 864.43 L576.86 864.64 L578.83 864.64 L578.83 860.88 L580.9 860.88 L580.9 859.89 L582.5 859.89 L582.5 863.63 L583.57 863.63 L583.57 863.32 L585.56 863.32 L585.56 863.82 L587.31 863.82 L587.31 863.28 L588.97 863.28 L588.97 863.21 L590.45 863.21 L590.45 861.37 L592.55 861.37 L592.55 859.73 L593.54 859.73 L593.54 862.53 L595.52 862.53 L595.52 862.51 L597.3 862.51 L597.3 859.62 L599.3 859.62 L599.3 861.84 L600 861.84 L600 867.07 L601.95 867.07 L601.95 873.26 L603.35 873.26 L603.35 867.17 L604.93 867.17 L604.93 869.56 L606.58 869.56 L606.58 874.23 L608.21 874.23 L608.21 866.93 L609.21 866.93 L609.21 865.92 L611.17 865.92 L611.17 868.89 L612.94 868.89 L612.94 874.63 L614.54 874.63 L614.54 872.55 L615.97 872.55 L615.97 871.11 L617.77 871.11 L617.77 869.7 L618.7 869.7 L618.7 870.3 L619.88 870.3 L619.88 868.55 L621.62 868.55 L621.62 872.06 L623.62 872.06 L623.62 874.11 L624.83 874.11 L624.83 872.15 L626.54 872.15 L626.54 874.63 L627.68 874.63 L627.68 876.75 L629.38 876.75 L629.38 873.73 L630.81 873.73 L630.81 870.6 L632.51 870.6 L632.51 867.89 L633.64 867.89 L633.64 873.9 L635.64 873.9 L635.64 869.53 L637.6 869.53 L637.6 874.2 L638.88 874.2 L638.88 867.24 L639.94 867.24 L639.94 872.11 L641.86 872.11 L641.86 873.91 L643.61 873.91 L643.61 871.38 L644.72 871.38 L644.72 871.73 L646.16 871.73 L646.16 873.71 L647.55 873.71 L647.55 869.83 L649.2 869.83 L649.2 872.08 L650 872.08 L650 869.06 L652.08 869.06 L652.08 870.15 L653.02 870.15 L653.02 873.59 L654.96 873.59 L654.96 870.68 L656.55 870.68 L656.55 869.69 L657.82 869.69 L657.82 869 L658.88 869 L658.88 874.05 L660.33 874.05 L660.33 870.04 L661.51 870.04 L661.51 872.6 L662.58 872.6 L662.58 870.18 L664.02 870.18 L664.02 866.52 L665.67 866.52 L665.67 865.2 L667.72 865.2 L667.72 869.71 L669.45 869.71 L669.45 871.4 L670.56 871.4 L670.56 864.73 L671.47 864.73 L671.47 869.26 L672.59 869.26 L672.59 866.31 L673.81 866.31 L673.81 871.6 L675.34 871.6 L675.34 868.41 L676.98 868.41 L676.98 865.7 L678.83 865.7 L678.83 873.03 L680 873.03 L680 864.02 L681.77 864.02 L681.77 857.6 L682.82 857.6 L682.82 861.94 L684.81 861.94 L684.81 856.21 L686.17 856.21 L686.17 858.69 L688.02 858.69 L688.02 857.26 L690.06 857.26 L690.06 861.57 L691.2 861.57 L691.2 862.21 L692.97 862.21 L692.97 857.42 L694.73 857.42 L694.73 866.31 L695.89 866.31 L695.89 856.48 L697.96 856.48 L697.96 861.11 L699.5 861.11 L699.5 858.39 L701.49 858.39 L701.49 859.86 L703.42 859.86 L703.42 861.26 L704.85 861.26 L704.85 860.71 L706.41 860.71 L706.41 857.47 L707.35 857.47 L707.35 864.44 L709.22 864.44 L709.22 862.03 L710.32 862.03 L710.32 860.57 L711.63 860.57 L711.63 858.87 L712.7 858.87 L712.7 859.39 L714.22 859.39 L714.22 855.42 L715.95 855.42 L715.95 854.01 L717.99 854.01 L717.99 860.33 L718.99 860.33 L718.99 857.98 L720 857.98 L720 861.65 L721.77 861.65 L721.77 857.23 L723.44 857.23 L723.44 861.31 L725.01 861.31 L725.01 858.45 L726.29 858.45 L726.29 865.28 L728.27 865.28 L728.27 865.89 L729.42 865.89 L729.42 856.7 L730.95 856.7 L730.95 862.94 L732.53 862.94 L732.53 864.95 L734.04 864.95 L734.04 868.5 L735.66 868.5 L735.66 863.15 L737.18 863.15 L737.18 863.01 L738.56 863.01 L738.56 858.95 L740.05 858.95 L740.05 864.85 L741.78 864.85 L741.78 863.25 L743.18 863.25 L743.18 863.76 L745.23 863.76 L745.23 861.08 L746.7 861.08 L746.7 857.8 L747.75 857.8 L747.75 863.86 L749.73 863.86 L749.73 861.33 L751.2 861.33 L751.2 863.49 L752.84 863.49 L752.84 864.99 L754.85 864.99 L754.85 865.16 L755.78 865.16 L755.78 862.54 L756.91 862.54 L756.91 865.77 L758.2 865.77 L758.2 861.14 L759.53 861.14 L759.53 861.2 L761.3 861.2 L761.3 860.11 L762.35 860.11 L762.35 861.88 L763.49 861.88 L763.49 859.76 L765.02 859.76 L765.02 862.94 L766.42 862.94 L766.42 862.91 L767.95 862.91 L767.95 863.43 L769.61 863.43 L769.61 857.2 L771.28 857.2 L771.28 861.1 L772.91 861.1 L772.91 862.45 L774.84 862.45 L774.84 866.08 L776.71 866.08 L776.71 861.13 L778.7 861.13 L778.7 863.99 L780.7 863.99 L780.7 867.23 L781.87 867.23 L781.87 861.95 L782.93 861.95 L782.93 861.72 L784.11 861.72 L784.11 860.08 L785.13 860.08 L785.13 858.11 L787.03 858.11 L787.03 864.09 L788.08 864.09 L788.08 861.81 L789.46 861.81 L789.46 861.57 L790.6 861.57 L790.6 867.58 L792.32 867.58 L792.32 858.53 L793.36 858.53 L793.36 862.15 L794.87 862.15 L794.87 859.05 L795 859.05 L795 890.07 L796.13 890.07 L796.13 889.51 L797.07 889.51 L797.07 885.77 L798.63 885.77 L798.63 888.7 L799.71 888.7 L799.71 890.37 L800 890.37 L800 875.59 L802.09 875.59 L802.09 876.61 L804.1 876.61 L804.1 881.07 L806 881.07 L806 897.21 L807.45 897.21 L807.45 894.79 L808.5 894.79 L808.5 924.6 L812.4 924.6 L812.4 866.93 L813.6 866.93 L813.6 847.44 L814.52 847.44 L814.52 847.26 L816.26 847.26 L816.26 845.77 L817.7 845.77 L817.7 846.31 L818.5 846.31 L818.5 860.92 L819.5 860.92 L819.5 924.6 Z" fill="#cbc7c8" stroke="none"/>
<path d="M472.5 924.6 L472.5 809.3 L826.6 809.3 L826.6 924.6" stroke="#3a3a3a" stroke-width="1.2" fill="none" />
<line x1="469.5" y1="924.6" x2="831" y2="924.6" stroke="#3a3a3a" stroke-width="1.2" />
<line x1="469.3" y1="813.75" x2="472.5" y2="813.75" stroke="#3a3a3a" stroke-width="1.1" />
<text x="468.5" y="817.05" font-size="9.4" text-anchor="end" font-weight="normal" font-style="normal" fill="#222" >350</text>
<line x1="469.3" y1="830" x2="472.5" y2="830" stroke="#3a3a3a" stroke-width="1.1" />
<text x="468.5" y="833.3" font-size="9.4" text-anchor="end" font-weight="normal" font-style="normal" fill="#222" >300</text>
<line x1="469.3" y1="845.75" x2="472.5" y2="845.75" stroke="#3a3a3a" stroke-width="1.1" />
<text x="468.5" y="849.05" font-size="9.4" text-anchor="end" font-weight="normal" font-style="normal" fill="#222" >250</text>
<line x1="469.3" y1="861.75" x2="472.5" y2="861.75" stroke="#3a3a3a" stroke-width="1.1" />
<text x="468.5" y="865.05" font-size="9.4" text-anchor="end" font-weight="normal" font-style="normal" fill="#222" >200</text>
<line x1="469.3" y1="877.5" x2="472.5" y2="877.5" stroke="#3a3a3a" stroke-width="1.1" />
<text x="468.5" y="880.8" font-size="9.4" text-anchor="end" font-weight="normal" font-style="normal" fill="#222" >150</text>
<line x1="469.3" y1="893.25" x2="472.5" y2="893.25" stroke="#3a3a3a" stroke-width="1.1" />
<text x="468.5" y="896.55" font-size="9.4" text-anchor="end" font-weight="normal" font-style="normal" fill="#222" >100</text>
<line x1="469.3" y1="909.25" x2="472.5" y2="909.25" stroke="#3a3a3a" stroke-width="1.1" />
<text x="468.5" y="912.55" font-size="9.4" text-anchor="end" font-weight="normal" font-style="normal" fill="#222" >50</text>
<line x1="469.3" y1="925" x2="472.5" y2="925" stroke="#3a3a3a" stroke-width="1.1" />
<text x="468.5" y="928.3" font-size="9.4" text-anchor="end" font-weight="normal" font-style="normal" fill="#222" >0</text>
<line x1="826.6" y1="820.8" x2="830.5" y2="820.8" stroke="#3a3a3a" stroke-width="1.1" />
<text x="831.8" y="824.1" font-size="9.4" text-anchor="start" font-weight="normal" font-style="normal" fill="#222" >10</text>
<line x1="826.6" y1="841.9" x2="830.5" y2="841.9" stroke="#3a3a3a" stroke-width="1.1" />
<text x="831.8" y="845.2" font-size="9.4" text-anchor="start" font-weight="normal" font-style="normal" fill="#222" >8</text>
<line x1="826.6" y1="862.2" x2="830.5" y2="862.2" stroke="#3a3a3a" stroke-width="1.1" />
<text x="831.8" y="865.5" font-size="9.4" text-anchor="start" font-weight="normal" font-style="normal" fill="#222" >6</text>
<line x1="826.6" y1="882.8" x2="830.5" y2="882.8" stroke="#3a3a3a" stroke-width="1.1" />
<text x="831.8" y="886.1" font-size="9.4" text-anchor="start" font-weight="normal" font-style="normal" fill="#222" >4</text>
<line x1="826.6" y1="903.6" x2="830.5" y2="903.6" stroke="#3a3a3a" stroke-width="1.1" />
<text x="831.8" y="906.9" font-size="9.4" text-anchor="start" font-weight="normal" font-style="normal" fill="#222" >2</text>
<line x1="826.6" y1="924.2" x2="830.5" y2="924.2" stroke="#3a3a3a" stroke-width="1.1" />
<text x="831.8" y="927.5" font-size="9.4" text-anchor="start" font-weight="normal" font-style="normal" fill="#222" >0</text>
<text x="448.3" y="860.6" font-size="10.6" text-anchor="middle" font-weight="normal" font-style="normal" fill="#222" transform="rotate(-90 448.3 860.6)">Coverage</text>
<text x="849.4" y="867" font-size="10.3" text-anchor="middle" font-weight="normal" font-style="normal" fill="#222" transform="rotate(-90 849.4 867)">Copy number</text>
<text x="620.8" y="822.8" font-size="11.2" text-anchor="start" font-weight="normal" font-style="normal" fill="#111" >G100k-66</text>
<rect x="482.75" y="844.6" width="323.85" height="3.6" fill="#000" />
<rect x="479.5" y="910.7" width="2.5" height="3.6" fill="#000" />
<rect x="814" y="906.1" width="2.6" height="3.6" fill="#000" />
<rect x="818" y="840.2" width="3" height="3.6" fill="#000" />
<line x1="760.9" y1="841.4" x2="760.9" y2="924.6" stroke="#8a4513" stroke-width="1.8" />
<path d="M482.75 924.6 A166.93 82.5 0 0 1 816.6 924.6" stroke="#0e7f86" stroke-width="1.9" fill="none" />
<line x1="809.8" y1="810" x2="809.8" y2="935.5" stroke="#1f74c4" stroke-width="1.7" stroke-dasharray="9 2.6"/>
<line x1="472.5" y1="936.2" x2="826.6" y2="936.2" stroke="#3a3a3a" stroke-width="1.2" />
<line x1="482" y1="936.2" x2="482" y2="941" stroke="#000" stroke-width="1.2" />
<text x="480" y="945.9" font-size="8.9" text-anchor="middle" font-weight="normal" font-style="normal" fill="#222" >36.5</text>
<line x1="616.6" y1="919.6" x2="616.6" y2="924.6" stroke="#3a3a3a" stroke-width="0.9" />
<text x="616.2" y="933.7" font-size="9" text-anchor="middle" font-weight="normal" font-style="italic" fill="#e8342a" >CCND3</text>
<text x="820.8" y="933.8" font-size="9" text-anchor="middle" font-weight="normal" font-style="italic" fill="#e8342a" >TP53</text>
<text x="801.4" y="944.7" font-size="8.9" text-anchor="middle" font-weight="normal" font-style="normal" fill="#222" >49.4</text>
<line x1="813.6" y1="936.2" x2="813.6" y2="943" stroke="#000" stroke-width="1.3" />
<line x1="807.5" y1="936.2" x2="807.5" y2="937.8" stroke="#000" stroke-width="1.1" />
<line x1="819.6" y1="936.2" x2="819.6" y2="937.8" stroke="#000" stroke-width="1.1" />
<text x="814" y="952.1" font-size="8.9" text-anchor="middle" font-weight="normal" font-style="normal" fill="#222" >7.57</text>
<text x="825.5" y="944.7" font-size="8.9" text-anchor="middle" font-weight="normal" font-style="normal" fill="#222" >7.81</text>
<text x="824.9" y="962" font-size="10.6" text-anchor="middle" font-weight="normal" font-style="normal" fill="#222" >chr17</text>
<text x="642.2" y="961.2" font-size="10.7" text-anchor="middle" font-weight="normal" font-style="normal" fill="#222" >chr6</text>
<text x="651.5" y="975.8" font-size="11.2" text-anchor="middle" font-weight="normal" font-style="normal" fill="#222" >Chromosome position (Mb)</text>
</svg></body></html>
